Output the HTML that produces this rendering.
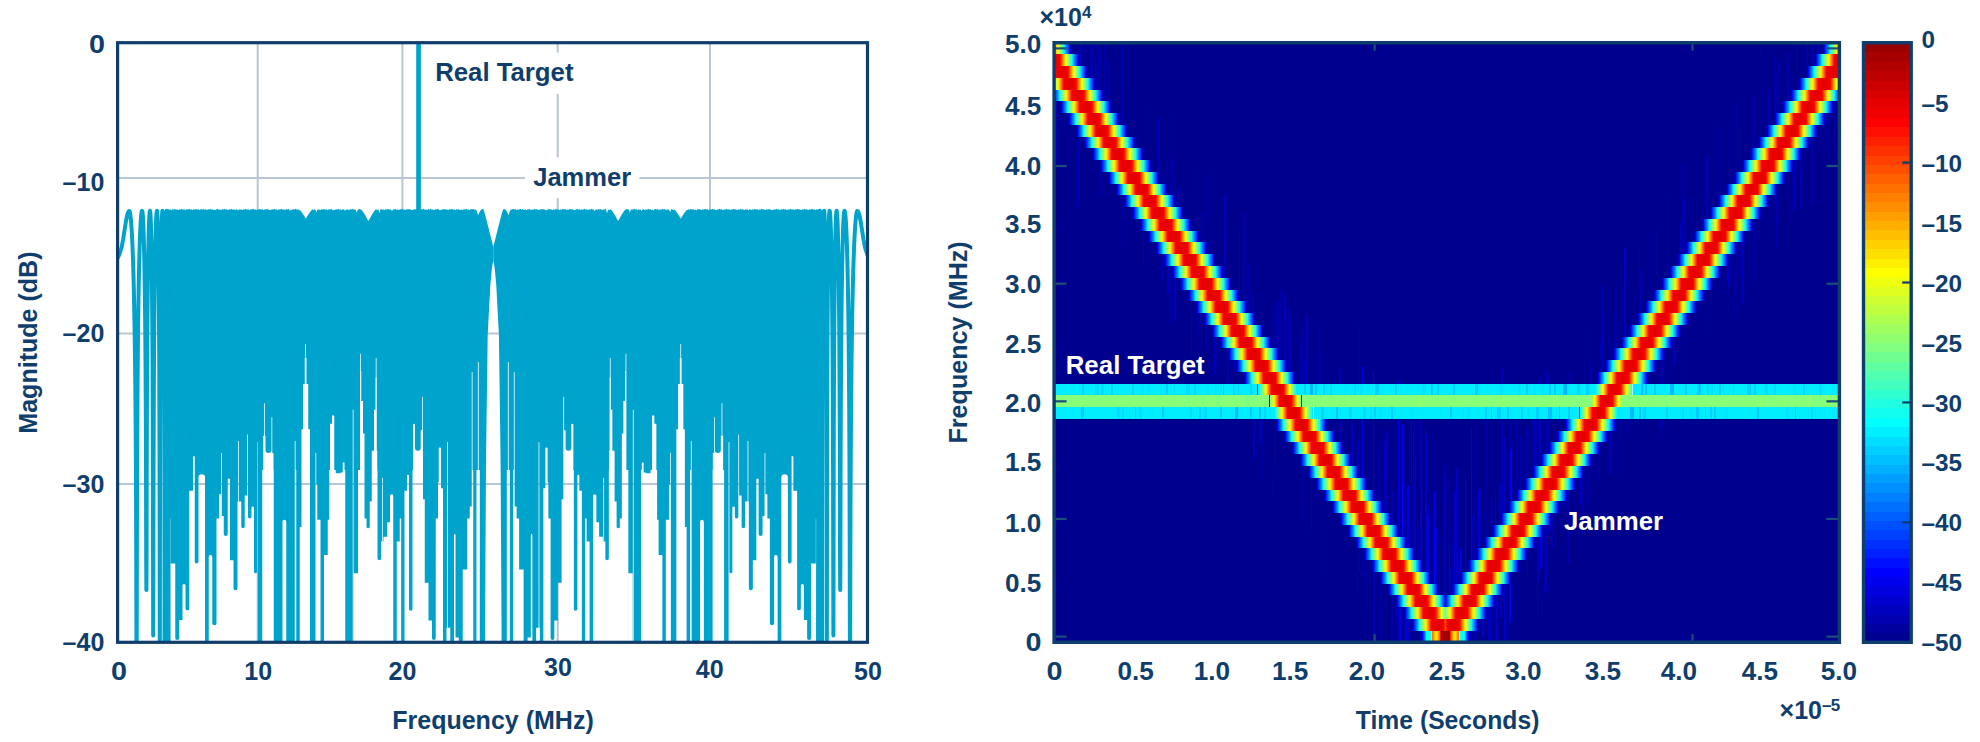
<!DOCTYPE html><html><head><meta charset="utf-8"><title>Jammer and Real Target</title>
<style>html,body{margin:0;padding:0;background:#fff}svg{display:block}text{font-family:"Liberation Sans",sans-serif;font-weight:bold;fill:#103e6c}</style></head><body>
<svg width="1980" height="742" viewBox="0 0 1980 742">
<rect width="1980" height="742" fill="#fff"/>
<g stroke="#b8c5d2" stroke-width="2" fill="none">
<line x1="257.7" y1="42.7" x2="257.7" y2="642.3"/>
<line x1="402.4" y1="42.7" x2="402.4" y2="642.3"/>
<line x1="557.7" y1="42.7" x2="557.7" y2="642.3"/>
<line x1="710" y1="42.7" x2="710" y2="642.3"/>
<line x1="117.6" y1="178" x2="867.5" y2="178"/>
<line x1="117.6" y1="333.5" x2="867.5" y2="333.5"/>
<line x1="117.6" y1="484" x2="867.5" y2="484"/>
</g>
<clipPath id="lc"><rect x="117.6" y="42.7" width="749.9" height="599.6"/></clipPath>
<g clip-path="url(#lc)">
<path d="M167.50 208.84L167.9 208.9L168.3 209.3L168.7 209.6L169.1 209.7L169.5 209.5L169.9 209.3L170.3 209.4L170.7 209.8L171.1 210.1L171.5 210.0L171.9 209.6L172.3 209.3L172.7 209.2L173.1 209.5L173.5 209.6L173.9 209.5L174.3 209.1L174.7 208.8L175.1 208.9L175.5 209.4L175.9 209.7L176.3 209.7L176.7 209.4L177.1 209.3L177.5 209.5L177.9 209.9L178.3 210.1L178.7 209.9L179.1 209.5L179.5 209.2L179.9 209.3L180.3 209.5L180.7 209.6L181.1 209.4L181.5 209.0L181.9 208.8L182.3 209.0L182.7 209.4L183.1 209.7L183.5 209.6L183.9 209.4L184.3 209.3L184.7 209.6L185.1 210.0L185.5 210.1L185.9 209.8L186.3 209.4L186.7 209.2L187.1 209.3L187.5 209.6L187.9 209.6L188.3 209.3L188.7 208.9L189.1 208.8L189.5 209.1L189.9 209.5L190.3 209.7L190.7 209.6L191.1 209.3L191.5 209.3L191.9 209.7L192.3 210.0L192.7 210.1L193.1 209.7L193.5 209.3L193.9 209.2L194.3 209.4L194.7 209.6L195.1 209.5L195.5 209.2L195.9 208.9L196.3 208.9L196.7 209.2L197.1 209.6L197.5 209.7L197.9 209.5L198.3 209.3L198.7 209.4L199.1 209.8L199.5 210.1L199.9 210.0L200.3 209.6L200.7 209.3L201.1 209.2L201.5 209.4L201.9 209.6L202.3 209.5L202.7 209.1L203.1 208.8L203.5 208.9L203.9 209.3L204.3 209.7L204.7 209.7L205.1 209.4L205.5 209.3L205.9 209.5L206.3 209.8L206.7 210.1L207.1 209.9L207.5 209.5L207.9 209.2L208.3 209.2L208.7 209.5L209.1 209.6L209.5 209.4L209.9 209.0L210.3 208.8L210.7 209.0L211.1 209.4L211.5 209.7L211.9 209.6L212.3 209.4L212.7 209.3L213.1 209.5L213.5 209.9L213.9 210.1L214.3 209.9L214.7 210.0L215.1 210.2L215.5 209.7L215.9 209.5L216.3 209.6L216.7 209.3L217.1 208.9L217.5 208.8L217.9 209.1L218.3 209.5L218.7 209.7L219.1 209.6L219.5 209.4L219.9 209.3L220.3 209.6L220.7 210.0L221.1 210.1L221.5 209.8L221.9 209.4L222.3 209.2L222.7 209.3L223.1 209.6L223.5 209.6L223.9 209.2L224.3 208.9L224.7 208.8L225.1 209.2L225.5 209.6L225.9 209.7L226.3 209.5L226.7 209.3L227.1 209.4L227.5 209.7L227.9 210.0L228.3 210.0L228.7 209.7L229.1 209.3L229.5 209.2L229.9 209.4L230.3 209.6L230.7 209.5L231.1 209.1L231.5 208.8L231.9 208.9L232.3 209.3L232.7 209.7L233.1 209.7L233.5 209.5L233.9 209.3L234.3 209.4L234.7 209.8L235.1 210.1L235.5 210.0L235.9 209.6L236.3 209.2L236.7 209.2L237.1 209.4L237.5 209.9L237.9 210.5L238.3 210.2L238.7 209.6L239.1 209.1L239.5 209.4L239.9 209.7L240.3 209.7L240.7 209.4L241.1 209.3L241.5 209.5L241.9 209.9L242.3 210.1L242.7 209.9L243.1 209.5L243.5 209.2L243.9 209.2L244.3 209.5L244.7 209.6L245.1 209.4L245.5 209.0L245.9 208.8L246.3 209.0L246.7 209.5L247.1 209.7L247.5 209.6L247.9 209.4L248.3 209.3L248.7 209.6L249.1 210.0L249.5 210.1L249.9 209.8L250.3 209.4L250.7 209.2L251.1 209.3L251.5 209.5L251.9 209.6L252.3 209.3L252.7 208.9L253.1 208.8L253.5 209.1L253.9 209.6L254.3 209.7L254.7 209.6L255.1 209.3L255.5 209.4L255.9 209.7L256.3 210.0L256.7 210.0L257.1 209.7L257.5 209.3L257.9 209.2L258.3 209.3L258.7 209.6L259.1 209.5L259.5 209.2L259.9 208.9L260.3 208.9L260.7 209.2L261.1 209.6L261.5 209.7L261.9 209.5L262.3 209.3L262.7 209.4L263.1 209.8L263.5 210.1L263.9 210.0L264.3 209.6L264.7 209.2L265.1 209.2L265.5 209.4L265.9 209.6L266.3 209.5L266.7 209.1L267.1 208.8L267.5 208.9L267.9 209.3L268.3 209.7L268.7 209.7L269.1 209.5L269.5 209.8L269.9 210.3L270.3 210.0L270.7 210.1L271.1 209.9L271.5 209.5L271.9 209.2L272.3 209.2L272.7 209.5L273.1 209.6L273.5 209.4L273.9 209.0L274.3 208.8L274.7 209.0L275.1 209.4L275.5 209.7L275.9 209.7L276.3 209.4L276.7 209.3L277.1 209.6L277.5 209.9L277.9 210.1L278.3 209.8L278.7 209.4L279.1 209.2L279.5 209.3L279.9 209.5L280.3 209.6L280.7 209.3L281.1 208.9L281.5 208.8L281.9 209.1L282.3 209.5L282.7 209.7L283.1 209.6L283.5 209.4L283.9 209.3L284.3 209.6L284.7 210.0L285.1 210.1L285.5 209.7L285.9 209.3L286.3 209.2L286.7 209.3L287.1 209.5L287.5 209.5L287.9 209.2L288.3 208.9L288.7 208.9L289.1 209.4L289.5 210.0L289.9 210.6L290.3 210.3L290.7 209.7L291.1 209.4L291.5 209.7L291.9 210.0L292.3 210.0L292.7 209.6L293.1 209.3L293.5 209.2L293.9 209.4L294.3 209.6L294.7 209.5L295.1 209.1L295.5 208.8L295.9 208.9L296.3 209.3L296.7 209.7L297.1 209.7L297.5 209.5L297.9 209.3L298.3 209.5L298.7 209.8L299.1 210.1L299.5 210.0L299.9 210.0L300.3 210.4L300.7 210.9L301.1 211.4L301.5 212.0L301.9 212.5L302.3 213.1L302.7 213.7L303.1 214.3L303.5 214.9L303.9 215.6L304.3 216.2L304.7 216.8L305.1 217.5L305.5 218.2L305.9 218.5L306.3 217.8L306.7 217.2L307.1 216.5L307.5 215.9L307.9 215.2L308.3 214.6L308.7 214.0L309.1 213.4L309.5 212.8L309.9 212.3L310.3 211.7L310.7 211.2L311.1 210.7L311.5 210.2L311.9 209.7L312.3 209.3L312.7 209.6L313.1 210.0L313.5 210.1L313.9 209.8L314.3 209.4L314.7 209.1L315.1 209.3L315.5 209.9L315.9 211.0L316.3 212.0L316.7 211.5L317.1 210.4L317.5 209.3L317.9 209.6L318.3 209.8L318.7 209.6L319.1 209.4L319.5 209.4L319.9 209.7L320.3 210.0L320.7 210.0L321.1 209.7L321.5 209.3L321.9 209.1L322.3 209.3L322.7 209.6L323.1 209.5L323.5 209.2L323.9 208.9L324.3 208.9L324.7 209.3L325.1 209.7L325.5 209.8L325.9 209.5L326.3 209.3L326.7 209.4L327.1 209.8L327.5 210.1L327.9 210.0L328.3 209.6L328.7 209.2L329.1 209.2L329.5 209.4L329.9 209.6L330.3 209.4L330.7 209.1L331.1 208.8L331.5 209.0L331.9 209.4L332.3 209.7L332.7 210.2L333.1 210.5L333.5 209.9L333.9 209.5L334.3 209.9L334.7 210.1L335.1 209.9L335.5 209.5L335.9 209.2L336.3 209.2L336.7 209.4L337.1 209.6L337.5 209.4L337.9 209.0L338.3 208.8L338.7 209.0L339.1 209.5L339.5 209.8L339.9 209.7L340.3 209.4L340.7 209.3L341.1 209.6L341.5 209.9L341.9 210.1L342.3 209.8L342.7 209.4L343.1 209.1L343.5 209.2L343.9 209.5L344.3 209.8L344.7 210.5L345.1 210.8L345.5 210.2L345.9 209.5L346.3 209.6L346.7 209.8L347.1 209.6L347.5 209.4L347.9 209.4L348.3 209.7L348.7 210.0L349.1 210.0L349.5 209.7L349.9 209.3L350.3 209.1L350.7 209.3L351.1 209.5L351.5 209.5L351.9 209.2L352.3 208.9L352.7 208.9L353.1 209.2L353.5 209.6L353.9 209.8L354.3 209.6L354.7 209.4L355.1 209.4L355.5 209.7L355.9 210.3L356.3 211.4L356.7 212.6L357.1 211.4L357.5 210.3L357.9 209.4L358.3 209.6L358.7 209.5L359.1 209.1L359.5 208.8L359.9 208.9L360.3 209.3L360.7 209.7L361.1 209.8L361.5 209.8L361.9 210.3L362.3 210.8L362.7 211.4L363.1 212.0L363.5 212.6L363.9 213.2L364.3 213.8L364.7 214.5L365.1 215.1L365.5 215.8L365.9 216.5L366.3 217.2L366.7 217.9L367.1 218.7L367.5 219.4L367.9 220.1L368.3 220.9L368.7 220.5L369.1 219.8L369.5 219.0L369.9 218.3L370.3 217.6L370.7 216.9L371.1 216.2L371.5 215.5L371.9 214.8L372.3 214.1L372.7 213.5L373.1 212.9L373.5 212.3L373.9 211.7L374.3 211.1L374.7 210.6L375.1 210.1L375.5 209.7L375.9 209.4L376.3 209.4L376.7 209.6L377.1 210.0L377.5 210.1L377.9 209.8L378.3 209.3L378.7 210.5L379.1 211.8L379.5 213.2L379.9 211.8L380.3 210.5L380.7 209.1L381.1 208.9L381.5 209.2L381.9 209.6L382.3 209.8L382.7 209.6L383.1 209.4L383.5 209.4L383.9 209.7L384.3 210.0L384.7 210.0L385.1 209.7L385.5 209.2L385.9 209.1L386.3 209.3L386.7 209.5L387.1 209.5L387.5 209.1L387.9 208.9L388.3 208.9L388.7 209.3L389.1 209.7L389.5 209.8L389.9 209.6L390.3 209.4L390.7 209.4L391.1 209.8L391.5 210.3L391.9 211.1L392.3 210.7L392.7 210.0L393.1 209.2L393.5 209.4L393.9 209.6L394.3 209.4L394.7 209.1L395.1 208.8L395.5 209.0L395.9 209.4L396.3 209.7L396.7 209.7L397.1 209.5L397.5 209.3L397.9 209.5L398.3 209.9L398.7 210.1L399.1 209.9L399.5 209.4L399.9 209.1L400.3 209.2L400.7 209.4L401.1 209.6L401.5 209.3L401.9 209.0L402.3 208.8L402.7 209.1L403.1 209.5L403.5 209.8L403.9 209.7L404.3 209.4L404.7 209.4L405.1 209.6L405.5 209.9L405.9 210.1L406.3 209.8L406.7 209.3L407.1 209.1L407.5 209.2L407.9 209.5L408.3 209.5L408.7 209.3L409.1 208.9L409.5 208.9L409.9 209.2L410.3 209.6L410.7 209.8L411.1 209.6L411.5 209.7L411.9 210.2L412.3 210.0L412.7 210.0L413.1 210.0L413.5 209.7L413.9 209.3L414.3 209.1L414.7 209.3L415.1 209.5L415.5 209.5L415.9 209.2L416.3 208.9L416.7 208.9L417.1 209.3L417.5 209.7L417.9 209.8L418.3 209.6L418.7 209.4L419.1 209.4L419.5 209.8L419.9 210.0L420.3 210.0L420.7 209.6L421.1 209.2L421.5 209.1L421.9 209.3L422.3 209.5L422.7 209.4L423.1 209.1L423.5 208.8L423.9 209.0L424.3 209.4L424.7 209.7L425.1 209.8L425.5 209.5L425.9 209.4L426.3 209.5L426.7 209.8L427.1 210.1L427.5 209.9L427.9 209.5L428.3 209.1L428.7 209.1L429.1 209.4L429.5 209.6L429.9 209.4L430.3 209.0L430.7 208.8L431.1 209.0L431.5 209.5L431.9 209.8L432.3 209.7L432.7 209.5L433.1 209.4L433.5 209.6L433.9 209.9L434.3 210.1L434.7 209.8L435.1 209.4L435.5 209.1L435.9 209.2L436.3 209.5L436.7 209.5L437.1 209.3L437.5 209.0L437.9 208.8L438.3 209.1L438.7 209.6L439.1 209.8L439.5 210.0L439.9 210.6L440.3 210.3L440.7 209.7L441.1 210.0L441.5 210.0L441.9 209.7L442.3 209.3L442.7 209.1L443.1 209.2L443.5 209.5L443.9 209.5L444.3 209.2L444.7 208.9L445.1 208.9L445.5 209.2L445.9 209.7L446.3 209.8L446.7 209.6L447.1 209.4L447.5 209.4L447.9 209.7L448.3 210.0L448.7 210.0L449.1 209.6L449.5 209.2L449.9 209.1L450.3 209.3L450.7 209.5L451.1 209.5L451.5 209.1L451.9 208.9L452.3 208.9L452.7 209.3L453.1 209.7L453.5 209.8L453.9 209.6L454.3 209.4L454.7 209.5L455.1 209.8L455.5 210.1L455.9 209.9L456.3 209.5L456.7 209.1L457.1 209.1L457.5 209.4L457.9 209.5L458.3 209.4L458.7 209.1L459.1 209.3L459.5 209.8L459.9 210.3L460.3 210.0L460.7 209.8L461.1 209.5L461.5 209.4L461.9 209.5L462.3 209.9L462.7 210.1L463.1 209.9L463.5 209.4L463.9 209.1L464.3 209.2L464.7 209.4L465.1 209.5L465.5 209.3L465.9 209.0L466.3 208.8L466.7 209.1L467.1 209.5L467.5 209.8L467.9 209.7L468.3 209.5L468.7 209.4L469.1 209.6L469.5 210.0L469.9 210.0L470.3 209.8L470.7 209.3L471.1 209.1L471.5 209.2L471.9 209.5L472.3 209.5L472.7 209.3L473.1 208.9L473.5 208.9L473.9 209.2L474.3 209.6L474.7 209.8L475.1 209.7L475.5 209.4L475.9 209.4L476.3 210.3L476.7 211.3L477.1 212.3L477.5 213.5L477.9 214.7L478.25 214.83L478.25 361.25L477.75 361.25L477.75 470.00L476.50 470.00L476.50 646.00L473.25 646.00L473.25 470.00L472.50 470.00L472.50 372.03L471.75 372.03L471.75 506.41L469.75 506.41L469.75 518.54L467.25 518.54L467.25 569.51L462.75 569.51L462.75 646.00L458.75 646.00L458.75 637.48L455.50 637.48L455.50 534.32L454.00 534.32L454.00 646.00L450.25 646.00L450.25 627.77L447.75 627.77L447.75 442.07L447.00 442.07L447.00 627.77L446.50 627.77L446.50 646.00L443.00 646.00L443.00 488.20L441.00 488.20L441.00 448.58Q441.00 447.46 439.88 447.46Q438.75 447.46 438.75 448.58L438.75 482.14L438.00 482.14L438.00 518.54L435.75 518.54L435.75 638.03Q435.75 639.90 433.88 639.90Q432.00 639.90 432.00 638.03L432.00 620.49L428.50 620.49L428.50 582.86L424.75 582.86L424.75 499.13L423.00 499.13L423.00 396.81L422.25 396.81L422.25 430.22L420.75 430.22L420.75 447.81Q420.75 450.69 417.88 450.69Q415.00 450.69 415.00 447.81L415.00 424.75Q415.00 423.75 414.00 423.75Q413.00 423.75 413.00 424.75L413.00 470.00L412.50 470.00L412.50 609.03Q412.50 610.78 410.75 610.78Q409.00 610.78 409.00 609.03L409.00 475.85Q409.00 474.85 408.00 474.85Q407.00 474.85 407.00 475.85L407.00 490.63L404.50 490.63L404.50 646.00L401.25 646.00L401.25 518.54L399.75 518.54L399.75 541.60L396.75 541.60L396.75 646.00L393.25 646.00L393.25 495.90Q393.25 494.27 391.62 494.27Q390.00 494.27 390.00 495.90L390.00 522.18L387.25 522.18L387.25 536.75L383.50 536.75L383.50 541.60L383.00 541.60L383.00 477.63L382.25 477.63L382.25 541.60L381.00 541.60L381.00 558.54Q381.00 560.29 379.25 560.29Q377.50 560.29 377.50 558.54L377.50 470.00L377.25 470.00L377.25 450.69L376.75 450.69L376.75 377.41L376.50 377.41L376.50 358.02L375.75 358.02L375.75 377.41L375.50 377.41L375.50 409.74L374.00 409.74L374.00 450.69L371.75 450.69L371.75 501.55L369.75 501.55L369.75 526.63Q369.75 528.25 368.12 528.25Q366.50 528.25 366.50 526.63L366.50 518.54L364.50 518.54L364.50 433.45L363.00 433.45L363.00 401.12L361.25 401.12L361.25 370.95L360.75 370.95L360.75 353.71L360.00 353.71L360.00 470.00L358.00 470.00L358.00 573.16L353.75 573.16L353.75 646.00L353.50 646.00L353.50 409.74L352.75 409.74L352.75 646.00L345.25 646.00L345.25 470.00L344.50 470.00L344.50 462.54L342.75 462.54L342.75 472.43L340.50 472.43L340.50 473.32L335.75 473.32L335.75 470.00L334.25 470.00L334.25 416.25Q334.25 415.13 333.12 415.13Q332.00 415.13 332.00 416.25L332.00 423.75L330.00 423.75L330.00 470.00L329.25 470.00L329.25 519.76L327.75 519.76L327.75 554.95L324.00 554.95L324.00 646.00L320.50 646.00L320.50 519.76L317.25 519.76L317.25 484.56L316.25 484.56L316.25 452.84L315.50 452.84L315.50 646.00L310.00 646.00L310.00 429.14L308.25 429.14L308.25 383.88L306.50 383.88L306.50 358.02L306.00 358.02L306.00 344.01L305.25 344.01L305.25 358.02L304.75 358.02L304.75 383.88L303.00 383.88L303.00 429.14L301.50 429.14L301.50 527.04L299.75 527.04L299.75 646.00L296.25 646.00L296.25 470.00L295.50 470.00L295.50 441.04L294.75 441.04L294.75 646.00L286.25 646.00L286.25 521.63Q286.25 519.76 284.38 519.76Q282.50 519.76 282.50 521.63L282.50 646.00L273.75 646.00L273.75 470.00L273.50 470.00L273.50 452.90L272.25 452.90L272.25 417.32L271.50 417.32L271.50 449.90Q271.50 452.90 268.50 452.90Q265.50 452.90 265.50 449.90L265.50 435.65L264.75 435.65L264.75 403.31L264.00 403.31L264.00 435.65L263.25 435.65L263.25 470.00L262.25 470.00L262.25 646.00L257.75 646.00L257.75 442.12L257.00 442.12L257.00 571.66Q257.00 573.16 255.50 573.16Q254.00 573.16 254.00 571.66L254.00 507.66Q254.00 506.41 252.75 506.41Q251.50 506.41 251.50 507.66L251.50 516.79Q251.50 518.54 249.75 518.54Q248.00 518.54 248.00 516.79L248.00 434.57L247.25 434.57L247.25 495.49L244.75 495.49L244.75 526.50Q244.75 528.25 243.00 528.25Q241.25 528.25 241.25 526.50L241.25 501.55L238.75 501.55L238.75 441.04L238.00 441.04L238.00 501.55L237.50 501.55L237.50 588.15Q237.50 590.15 235.50 590.15Q233.50 590.15 233.50 588.15L233.50 560.29L230.00 560.29L230.00 479.62Q230.00 478.50 228.88 478.50Q227.75 478.50 227.75 479.62L227.75 534.02Q227.75 536.02 225.75 536.02Q223.75 536.02 223.75 534.02L223.75 516.12L221.75 516.12L221.75 452.90L221.00 452.90L221.00 494.27L219.00 494.27L219.00 518.54L216.50 518.54L216.50 623.21Q216.50 625.34 214.38 625.34Q212.25 625.34 212.25 623.21L212.25 556.70Q212.25 554.95 210.50 554.95Q208.75 554.95 208.75 556.70L208.75 646.00L205.00 646.00L205.00 477.62Q205.00 474.37 201.75 474.37Q198.50 474.37 198.50 477.62L198.50 561.57Q198.50 563.45 196.62 563.45Q194.75 563.45 194.75 561.57L194.75 456.13L193.00 456.13L193.00 490.63L189.25 490.63L189.25 608.42Q189.25 610.29 187.38 610.29Q185.50 610.29 185.50 608.42L185.50 585.58Q185.50 584.08 184.00 584.08Q182.50 584.08 182.50 585.58L182.50 620.00L179.25 620.00L179.25 637.90Q179.25 639.90 177.25 639.90Q175.25 639.90 175.25 637.90L175.25 563.45L170.50 563.45L170.50 518.54L167.50 518.54Z" fill="#00a3cc"/>
<path d="M508.35 214.83L508.8 214.5L509.1 213.3L509.5 212.2L509.9 211.1L510.3 210.2L510.7 209.4L511.1 209.4L511.5 209.7L511.9 209.8L512.3 209.6L512.7 209.1L513.1 208.9L513.5 209.0L513.9 209.3L514.3 209.5L514.7 209.4L515.1 209.2L515.5 209.1L515.9 209.4L516.3 209.8L516.7 210.1L517.1 209.9L517.5 209.6L517.9 209.4L518.3 209.5L518.7 209.7L519.1 209.8L519.5 209.5L519.9 209.0L520.3 208.8L520.7 209.0L521.1 209.4L521.5 209.5L521.9 209.4L522.3 209.1L522.7 209.1L523.1 209.5L523.5 209.9L523.9 210.1L524.3 209.8L524.7 209.5L525.1 209.4L525.5 209.5L525.9 209.8L526.3 210.1L526.7 210.2L527.1 209.7L527.5 209.2L527.9 209.1L528.3 209.4L528.7 209.5L529.1 209.3L529.5 209.1L529.9 209.2L530.3 209.6L530.7 210.0L531.1 210.0L531.5 209.8L531.9 209.4L532.3 209.4L532.7 209.6L533.1 209.8L533.5 209.7L533.9 209.3L534.3 208.9L534.7 208.9L535.1 209.2L535.5 209.5L535.9 209.5L536.3 209.3L536.7 209.1L537.1 209.2L537.5 209.7L537.9 210.0L538.3 210.0L538.7 209.7L539.1 209.4L539.5 209.4L539.9 209.7L540.3 209.8L540.7 209.6L541.1 209.2L541.5 208.9L541.9 208.9L542.3 209.3L542.7 209.5L543.1 209.5L543.5 209.2L543.9 209.1L544.3 209.3L544.7 209.8L545.1 210.1L545.5 209.9L545.9 209.8L546.3 210.4L546.7 210.6L547.1 210.0L547.5 209.8L547.9 209.5L548.3 209.1L548.7 208.8L549.1 209.0L549.5 209.3L549.9 209.5L550.3 209.4L550.7 209.2L551.1 209.1L551.5 209.4L551.9 209.9L552.3 210.1L552.7 209.9L553.1 209.5L553.5 209.4L553.9 209.5L554.3 209.8L554.7 209.8L555.1 209.4L555.5 209.0L555.9 208.8L556.3 209.1L556.7 209.4L557.1 209.5L557.5 209.4L557.9 209.1L558.3 209.2L558.7 209.5L559.1 209.9L559.5 210.1L559.9 209.8L560.3 209.5L560.7 209.4L561.1 209.6L561.5 209.8L561.9 209.7L562.3 209.3L562.7 208.9L563.1 208.9L563.5 209.1L563.9 209.5L564.3 209.5L564.7 209.3L565.1 209.1L565.5 209.2L565.9 209.6L566.3 210.0L566.7 210.0L567.1 209.7L567.5 209.4L567.9 209.4L568.3 209.6L568.7 209.8L569.1 209.6L569.5 209.2L569.9 208.9L570.3 208.9L570.7 209.2L571.1 209.5L571.5 209.5L571.9 209.2L572.3 209.1L572.7 209.3L573.1 209.7L573.5 210.1L573.9 210.0L574.3 210.0L574.7 210.1L575.1 209.7L575.5 209.7L575.9 209.8L576.3 209.5L576.7 209.1L577.1 208.8L577.5 209.0L577.9 209.3L578.3 209.5L578.7 209.5L579.1 209.2L579.5 209.1L579.9 209.4L580.3 209.8L580.7 210.1L581.1 209.9L581.5 209.5L581.9 209.3L582.3 209.5L582.7 209.7L583.1 209.8L583.5 209.5L583.9 209.0L584.3 208.8L584.7 209.0L585.1 209.4L585.5 209.6L585.9 209.4L586.3 209.2L586.7 209.2L587.1 209.5L587.5 209.9L587.9 210.1L588.3 209.8L588.7 209.5L589.1 209.3L589.5 209.5L589.9 209.8L590.3 209.7L590.7 209.3L591.1 208.9L591.5 208.8L591.9 209.1L592.3 209.5L592.7 209.5L593.1 209.3L593.5 209.3L593.9 210.0L594.3 210.8L594.7 211.0L595.1 210.2L595.5 209.7L595.9 209.4L596.3 209.4L596.7 209.6L597.1 209.8L597.5 209.7L597.9 209.2L598.3 208.9L598.7 208.9L599.1 209.2L599.5 209.5L599.9 209.5L600.3 209.3L600.7 209.1L601.1 209.3L601.5 209.7L601.9 210.0L602.3 210.0L602.7 209.7L603.1 209.4L603.5 209.4L603.9 209.6L604.3 209.8L604.7 209.6L605.1 209.1L605.5 208.8L605.9 209.3L606.3 210.7L606.7 212.0L607.1 213.0L607.5 211.7L607.9 210.3L608.3 209.4L608.7 209.8L609.1 210.1L609.5 209.9L609.9 209.6L610.3 209.3L610.7 209.4L611.1 209.7L611.5 210.1L611.9 210.6L612.3 211.2L612.7 211.7L613.1 212.3L613.5 212.9L613.9 213.6L614.3 214.2L614.7 214.9L615.1 215.5L615.5 216.2L615.9 216.9L616.3 217.7L616.7 218.4L617.1 219.1L617.5 219.9L617.9 220.6L618.3 220.8L618.7 220.1L619.1 219.3L619.5 218.6L619.9 217.8L620.3 217.1L620.7 216.4L621.1 215.7L621.5 215.0L621.9 214.4L622.3 213.7L622.7 213.1L623.1 212.5L623.5 211.9L623.9 211.3L624.3 210.8L624.7 210.3L625.1 209.8L625.5 209.8L625.9 209.7L626.3 209.3L626.7 208.9L627.1 208.9L627.5 209.2L627.9 209.5L628.3 209.5L628.7 209.3L629.1 210.4L629.5 211.6L629.9 212.5L630.3 211.3L630.7 210.1L631.1 209.7L631.5 209.4L631.9 209.4L632.3 209.6L632.7 209.8L633.1 209.6L633.5 209.2L633.9 208.9L634.3 208.9L634.7 209.2L635.1 209.5L635.5 209.5L635.9 209.3L636.3 209.1L636.7 209.3L637.1 209.8L637.5 210.1L637.9 210.0L638.3 209.6L638.7 209.3L639.1 209.4L639.5 209.7L639.9 209.8L640.3 209.5L640.7 209.6L641.1 210.2L641.5 210.9L641.9 210.4L642.3 209.7L642.7 209.5L643.1 209.2L643.5 209.1L643.9 209.4L644.3 209.9L644.7 210.1L645.1 209.9L645.5 209.5L645.9 209.3L646.3 209.5L646.7 209.7L647.1 209.7L647.5 209.4L647.9 209.0L648.3 208.8L648.7 209.0L649.1 209.4L649.5 209.6L649.9 209.4L650.3 209.2L650.7 209.2L651.1 209.5L651.5 209.9L651.9 210.1L652.3 209.8L652.7 209.5L653.1 210.0L653.5 210.5L653.9 210.1L654.3 209.7L654.7 209.3L655.1 208.9L655.5 208.8L655.9 209.1L656.3 209.5L656.7 209.6L657.1 209.4L657.5 209.1L657.9 209.2L658.3 209.6L658.7 210.0L659.1 210.0L659.5 209.7L659.9 209.4L660.3 209.3L660.7 209.6L661.1 209.8L661.5 209.6L661.9 209.2L662.3 208.9L662.7 208.9L663.1 209.2L663.5 209.5L663.9 209.5L664.3 209.3L664.7 209.1L665.1 209.3L665.5 209.7L665.9 210.1L666.3 210.0L666.7 209.6L667.1 209.4L667.5 209.4L667.9 209.6L668.3 209.8L668.7 209.5L669.1 209.5L669.5 210.5L669.9 211.6L670.3 211.9L670.7 210.8L671.1 209.7L671.5 209.2L671.9 209.1L672.3 209.4L672.7 209.8L673.1 210.1L673.5 209.9L673.9 209.6L674.3 209.4L674.7 209.8L675.1 210.3L675.5 210.7L675.9 211.2L676.3 211.8L676.7 212.3L677.1 212.9L677.5 213.5L677.9 214.1L678.3 214.7L678.7 215.3L679.1 216.0L679.5 216.6L679.9 217.3L680.3 217.9L680.7 218.6L681.1 218.1L681.5 217.4L681.9 216.8L682.3 216.1L682.7 215.5L683.1 214.8L683.5 214.2L683.9 213.6L684.3 213.0L684.7 212.5L685.1 211.9L685.5 211.4L685.9 210.9L686.3 210.4L686.7 209.9L687.1 210.0L687.5 210.1L687.9 209.8L688.3 209.4L688.7 209.3L689.1 209.5L689.5 209.7L689.9 209.6L690.3 209.3L690.7 208.9L691.1 208.9L691.5 209.2L691.9 209.5L692.3 209.6L692.7 209.3L693.1 209.2L693.5 209.3L693.9 209.7L694.3 210.0L694.7 210.0L695.1 209.7L695.5 209.4L695.9 209.8L696.3 210.4L696.7 210.6L697.1 210.0L697.5 209.3L697.9 208.8L698.3 208.9L698.7 209.3L699.1 209.6L699.5 209.5L699.9 209.3L700.3 209.2L700.7 209.4L701.1 209.8L701.5 210.1L701.9 210.0L702.3 209.6L702.7 209.3L703.1 209.4L703.5 209.6L703.9 209.7L704.3 209.5L704.7 209.1L705.1 208.8L705.5 209.0L705.9 209.3L706.3 209.6L706.7 209.5L707.1 209.2L707.5 209.2L707.9 209.5L708.3 209.9L708.7 210.1L709.1 209.9L709.5 209.5L709.9 209.3L710.3 209.4L710.7 209.7L711.1 209.7L711.5 209.4L711.9 209.0L712.3 208.8L712.7 209.0L713.1 209.4L713.5 209.6L713.9 209.4L714.3 209.2L714.7 209.2L715.1 209.6L715.5 210.0L715.9 210.1L716.3 210.1L716.7 210.2L717.1 209.7L717.5 209.5L717.9 209.7L718.3 209.7L718.7 209.3L719.1 208.9L719.5 208.8L719.9 209.1L720.3 209.5L720.7 209.6L721.1 209.4L721.5 209.2L721.9 209.3L722.3 209.7L722.7 210.0L723.1 210.0L723.5 209.7L723.9 209.4L724.3 209.3L724.7 209.6L725.1 209.7L725.5 209.6L725.9 209.2L726.3 208.8L726.7 208.9L727.1 209.2L727.5 209.5L727.9 209.6L728.3 209.3L728.7 209.2L729.1 209.3L729.5 209.8L729.9 210.1L730.3 210.0L730.7 209.6L731.1 209.3L731.5 209.4L731.9 209.6L732.3 209.7L732.7 209.5L733.1 209.1L733.5 208.8L733.9 208.9L734.3 209.3L734.7 209.6L735.1 209.5L735.5 209.3L735.9 209.2L736.3 209.4L736.7 209.9L737.1 210.1L737.5 209.9L737.9 209.5L738.3 209.3L738.7 209.4L739.1 209.7L739.5 209.7L739.9 209.4L740.3 209.0L740.7 208.8L741.1 209.0L741.5 209.4L741.9 209.6L742.3 209.5L742.7 209.2L743.1 209.2L743.5 209.5L743.9 209.9L744.3 210.1L744.7 209.8L745.1 209.5L745.5 209.3L745.9 209.5L746.3 209.7L746.7 209.7L747.1 209.3L747.5 209.1L747.9 209.7L748.3 210.3L748.7 210.4L749.1 209.8L749.5 209.4L749.9 209.2L750.3 209.3L750.7 209.6L751.1 210.0L751.5 210.1L751.9 209.8L752.3 209.4L752.7 209.3L753.1 209.5L753.5 209.7L753.9 209.6L754.3 209.2L754.7 208.9L755.1 208.9L755.5 209.2L755.9 209.5L756.3 209.6L756.7 209.4L757.1 209.2L757.5 209.3L757.9 209.7L758.3 210.1L758.7 210.0L759.1 209.7L759.5 209.3L759.9 209.3L760.3 209.6L760.7 209.7L761.1 209.5L761.5 209.1L761.9 208.8L762.3 208.9L762.7 209.3L763.1 209.6L763.5 209.5L763.9 209.3L764.3 209.2L764.7 209.4L765.1 209.8L765.5 210.1L765.9 210.0L766.3 209.6L766.7 209.3L767.1 209.4L767.5 209.6L767.9 209.7L768.3 209.5L768.7 209.0L769.1 208.8L769.5 209.0L769.9 209.4L770.3 209.6L770.7 209.5L771.1 209.8L771.5 210.2L771.9 209.9L772.3 209.9L772.7 210.1L773.1 209.9L773.5 209.5L773.9 209.3L774.3 209.4L774.7 209.7L775.1 209.7L775.5 209.4L775.9 208.9L776.3 208.8L776.7 209.1L777.1 209.4L777.5 209.6L777.9 209.4L778.3 209.2L778.7 209.2L779.1 209.6L779.5 210.0L779.9 210.1L780.3 209.8L780.7 209.4L781.1 209.3L781.5 209.5L781.9 209.7L782.3 209.6L782.7 209.3L783.1 208.9L783.5 208.8L783.9 209.1L784.3 209.5L784.7 209.6L785.1 209.4L785.5 209.2L785.9 209.3L786.3 209.7L786.7 210.0L787.1 210.0L787.5 209.7L787.9 209.4L788.3 209.3L788.7 209.5L789.1 209.7L789.5 209.6L789.9 209.2L790.3 208.8L790.7 208.9L791.1 209.2L791.5 209.6L791.9 209.6L792.3 209.3L792.7 209.2L793.1 209.4L793.5 209.8L793.9 210.1L794.3 210.0L794.7 209.6L795.1 209.3L795.5 209.3L795.9 209.6L796.3 209.7L796.7 209.5L797.1 209.1L797.5 208.8L797.9 208.9L798.3 209.3L798.7 209.6L799.1 209.5L799.5 209.3L799.9 209.2L800.3 209.5L800.7 209.9L801.1 210.1L801.5 209.9L801.9 209.5L802.3 209.3L802.7 209.4L803.1 209.6L803.5 209.7L803.9 209.4L804.3 209.0L804.7 208.8L805.1 209.0L805.5 209.4L805.9 209.6L806.3 209.5L806.7 209.2L807.1 209.2L807.5 209.6L807.9 210.0L808.3 210.1L808.7 209.8L809.1 209.4L809.5 209.3L809.9 209.4L810.3 209.7L810.7 209.6L811.1 209.3L811.5 208.9L811.9 208.8L812.3 209.1L812.7 209.5L813.1 209.6L813.5 209.4L813.9 209.2L814.3 209.3L814.7 209.7L815.1 210.0L815.5 210.1L815.9 209.7L816.3 209.4L816.7 209.3L817.1 209.5L817.5 209.7L817.9 209.6L818.3 209.2L818.7 208.9L819.10 208.84L819.10 518.54L815.85 518.54L815.85 563.45L811.10 563.45L811.10 637.90Q811.10 639.90 809.10 639.90Q807.10 639.90 807.10 637.90L807.10 620.00L803.85 620.00L803.85 585.58Q803.85 584.08 802.35 584.08Q800.85 584.08 800.85 585.58L800.85 608.42Q800.85 610.29 798.98 610.29Q797.10 610.29 797.10 608.42L797.10 490.63L793.35 490.63L793.35 456.13L791.60 456.13L791.60 561.57Q791.60 563.45 789.73 563.45Q787.85 563.45 787.85 561.57L787.85 477.62Q787.85 474.37 784.60 474.37Q781.35 474.37 781.35 477.62L781.35 646.00L777.60 646.00L777.60 556.70Q777.60 554.95 775.85 554.95Q774.10 554.95 774.10 556.70L774.10 623.21Q774.10 625.34 771.98 625.34Q769.85 625.34 769.85 623.21L769.85 518.54L767.35 518.54L767.35 494.27L765.35 494.27L765.35 452.90L764.60 452.90L764.60 516.12L762.60 516.12L762.60 534.02Q762.60 536.02 760.60 536.02Q758.60 536.02 758.60 534.02L758.60 479.62Q758.60 478.50 757.48 478.50Q756.35 478.50 756.35 479.62L756.35 560.29L752.85 560.29L752.85 588.15Q752.85 590.15 750.85 590.15Q748.85 590.15 748.85 588.15L748.85 501.55L748.35 501.55L748.35 441.04L747.60 441.04L747.60 501.55L745.10 501.55L745.10 526.50Q745.10 528.25 743.35 528.25Q741.60 528.25 741.60 526.50L741.60 495.49L739.10 495.49L739.10 434.57L738.35 434.57L738.35 516.79Q738.35 518.54 736.60 518.54Q734.85 518.54 734.85 516.79L734.85 507.66Q734.85 506.41 733.60 506.41Q732.35 506.41 732.35 507.66L732.35 571.66Q732.35 573.16 730.85 573.16Q729.35 573.16 729.35 571.66L729.35 442.12L728.60 442.12L728.60 646.00L724.10 646.00L724.10 470.00L723.10 470.00L723.10 435.65L722.35 435.65L722.35 403.31L721.60 403.31L721.60 435.65L720.85 435.65L720.85 449.90Q720.85 452.90 717.85 452.90Q714.85 452.90 714.85 449.90L714.85 417.32L714.10 417.32L714.10 452.90L712.85 452.90L712.85 470.00L712.60 470.00L712.60 646.00L703.85 646.00L703.85 521.63Q703.85 519.76 701.98 519.76Q700.10 519.76 700.10 521.63L700.10 646.00L691.60 646.00L691.60 441.04L690.85 441.04L690.85 470.00L690.10 470.00L690.10 646.00L686.60 646.00L686.60 527.04L684.85 527.04L684.85 429.14L683.35 429.14L683.35 383.88L681.60 383.88L681.60 358.02L681.10 358.02L681.10 344.01L680.35 344.01L680.35 358.02L679.85 358.02L679.85 383.88L678.10 383.88L678.10 429.14L676.35 429.14L676.35 646.00L670.85 646.00L670.85 452.84L670.10 452.84L670.10 484.56L669.10 484.56L669.10 519.76L665.85 519.76L665.85 646.00L662.35 646.00L662.35 554.95L658.60 554.95L658.60 519.76L657.10 519.76L657.10 470.00L656.35 470.00L656.35 423.75L654.35 423.75L654.35 416.25Q654.35 415.13 653.23 415.13Q652.10 415.13 652.10 416.25L652.10 470.00L650.60 470.00L650.60 473.32L645.85 473.32L645.85 472.43L643.60 472.43L643.60 462.54L641.85 462.54L641.85 470.00L641.10 470.00L641.10 646.00L633.60 646.00L633.60 409.74L632.85 409.74L632.85 646.00L632.60 646.00L632.60 573.16L628.35 573.16L628.35 470.00L626.35 470.00L626.35 353.71L625.60 353.71L625.60 370.95L625.10 370.95L625.10 401.12L623.35 401.12L623.35 433.45L621.85 433.45L621.85 518.54L619.85 518.54L619.85 526.63Q619.85 528.25 618.23 528.25Q616.60 528.25 616.60 526.63L616.60 501.55L614.60 501.55L614.60 450.69L612.35 450.69L612.35 409.74L610.85 409.74L610.85 377.41L610.60 377.41L610.60 358.02L609.85 358.02L609.85 377.41L609.60 377.41L609.60 450.69L609.10 450.69L609.10 470.00L608.85 470.00L608.85 558.54Q608.85 560.29 607.10 560.29Q605.35 560.29 605.35 558.54L605.35 541.60L604.10 541.60L604.10 477.63L603.35 477.63L603.35 541.60L602.85 541.60L602.85 536.75L599.10 536.75L599.10 522.18L596.35 522.18L596.35 495.90Q596.35 494.27 594.73 494.27Q593.10 494.27 593.10 495.90L593.10 646.00L589.60 646.00L589.60 541.60L586.60 541.60L586.60 518.54L585.10 518.54L585.10 646.00L581.85 646.00L581.85 490.63L579.35 490.63L579.35 475.85Q579.35 474.85 578.35 474.85Q577.35 474.85 577.35 475.85L577.35 609.03Q577.35 610.78 575.60 610.78Q573.85 610.78 573.85 609.03L573.85 470.00L573.35 470.00L573.35 424.75Q573.35 423.75 572.35 423.75Q571.35 423.75 571.35 424.75L571.35 447.81Q571.35 450.69 568.48 450.69Q565.60 450.69 565.60 447.81L565.60 430.22L564.10 430.22L564.10 396.81L563.35 396.81L563.35 499.13L561.60 499.13L561.60 582.86L557.85 582.86L557.85 620.49L554.35 620.49L554.35 638.03Q554.35 639.90 552.48 639.90Q550.60 639.90 550.60 638.03L550.60 518.54L548.35 518.54L548.35 482.14L547.60 482.14L547.60 448.58Q547.60 447.46 546.48 447.46Q545.35 447.46 545.35 448.58L545.35 488.20L543.35 488.20L543.35 646.00L539.85 646.00L539.85 627.77L539.35 627.77L539.35 442.07L538.60 442.07L538.60 627.77L536.10 627.77L536.10 646.00L532.35 646.00L532.35 534.32L530.85 534.32L530.85 637.48L527.60 637.48L527.60 646.00L523.60 646.00L523.60 569.51L519.10 569.51L519.10 518.54L516.60 518.54L516.60 506.41L514.60 506.41L514.60 372.03L513.85 372.03L513.85 470.00L513.10 470.00L513.10 646.00L509.85 646.00L509.85 470.00L508.60 470.00L508.60 361.25L508.35 361.25Z" fill="#00a3cc"/>
<path d="M117.30 258.50L118.50 256.50L120.00 252.50L121.60 247.50L123.00 240.00L124.60 230.00L126.00 221.00L127.30 214.60L128.30 211.90L129.20 211.00L129.49 211.06L129.79 211.84L130.08 213.15L130.38 214.99L130.67 217.39L130.97 220.36L131.26 223.93L131.55 228.13L131.85 233.00L132.14 238.60L132.44 244.99L132.73 252.25L133.02 260.48L133.32 269.80L133.61 280.39L133.91 292.46L134.20 306.32L134.50 322.37L134.79 341.23L135.08 363.82L135.38 391.70L135.67 427.69L135.97 477.97L136.26 560.79L136.56 700.00L136.63 700.00L136.85 560.79L137.07 477.97L137.29 427.69L137.51 391.70L137.73 363.82L137.95 341.23L138.16 322.37L138.38 306.32L138.60 292.46L138.82 280.39L139.04 269.80L139.26 260.48L139.48 252.25L139.69 244.99L139.91 238.60L140.13 233.00L140.35 228.13L140.57 223.93L140.79 220.36L141.01 217.39L141.23 214.99L141.44 213.15L141.66 211.84L141.88 211.06L142.10 210.80L142.27 211.06L142.44 211.84L142.61 213.15L142.78 214.99L142.95 217.39L143.13 220.36L143.30 223.93L143.47 228.13L143.64 233.00L143.81 238.60L143.98 244.99L144.15 252.25L144.32 260.48L144.49 269.80L144.66 280.39L144.84 292.46L145.01 306.32L145.18 322.37L145.35 341.23L145.52 363.82L145.69 391.70L145.86 427.69L146.03 477.97L146.20 560.79L146.37 590.00L146.42 590.00L146.56 560.79L146.71 477.97L146.85 427.69L146.99 391.70L147.14 363.82L147.28 341.23L147.42 322.37L147.57 306.32L147.71 292.46L147.85 280.39L148.00 269.80L148.14 260.48L148.28 252.25L148.43 244.99L148.57 238.60L148.71 233.00L148.85 228.13L149.00 223.93L149.14 220.36L149.28 217.39L149.43 214.99L149.57 213.15L149.71 211.84L149.86 211.06L150.00 210.80L150.13 211.06L150.25 211.84L150.38 213.15L150.51 214.99L150.64 217.39L150.76 220.36L150.89 223.93L151.02 228.13L151.15 233.00L151.27 238.60L151.40 244.99L151.53 252.25L151.65 260.48L151.78 269.80L151.91 280.39L152.04 292.46L152.16 306.32L152.29 322.37L152.42 341.23L152.54 363.82L152.67 391.70L152.80 427.69L152.93 477.97L153.05 560.79L153.18 635.50L153.22 635.50L153.37 560.79L153.52 477.97L153.68 427.69L153.83 391.70L153.98 363.82L154.13 341.23L154.28 322.37L154.43 306.32L154.58 292.46L154.73 280.39L154.88 269.80L155.04 260.48L155.19 252.25L155.34 244.99L155.49 238.60L155.64 233.00L155.79 228.13L155.94 223.93L156.09 220.36L156.24 217.39L156.40 214.99L156.55 213.15L156.70 211.84L156.85 211.06L157.00 210.80L157.11 211.06L157.22 211.84L157.33 213.15L157.45 214.99L157.56 217.39L157.67 220.36L157.78 223.93L157.89 228.13L158.00 233.00L158.11 238.60L158.22 244.99L158.34 252.25L158.45 260.48L158.56 269.80L158.67 280.39L158.78 292.46L158.89 306.32L159.00 322.37L159.12 341.23L159.23 363.82L159.34 391.70L159.45 427.69L159.56 477.97L159.67 560.79L159.78 700.00L159.82 700.00L159.92 560.79L160.03 477.97L160.14 427.69L160.25 391.70L160.35 363.82L160.46 341.23L160.57 322.37L160.68 306.32L160.78 292.46L160.89 280.39L161.00 269.80L161.10 260.48L161.21 252.25L161.32 244.99L161.43 238.60L161.53 233.00L161.64 228.13L161.75 223.93L161.86 220.36L161.96 217.39L162.07 214.99L162.18 213.15L162.29 211.84L162.39 211.06L162.50 210.80L162.58 211.06L162.67 211.84L162.75 213.15L162.83 214.99L162.92 217.39L163.00 220.36L163.08 223.93L163.17 228.13L163.25 233.00L163.33 238.60L163.42 244.99L163.50 252.25L163.59 260.48L163.67 269.80L163.75 280.39L163.84 292.46L163.92 306.32L164.00 322.37L164.09 341.23L164.17 363.82L164.25 391.70L164.34 427.69L164.42 477.97L164.50 560.79L164.59 700.00L164.61 700.00L164.70 560.79L164.78 477.97L164.86 427.69L164.95 391.70L165.03 363.82L165.11 341.23L165.20 322.37L165.28 306.32L165.36 292.46L165.45 280.39L165.53 269.80L165.61 260.48L165.70 252.25L165.78 244.99L165.87 238.60L165.95 233.00L166.03 228.13L166.12 223.93L166.20 220.36L166.28 217.39L166.37 214.99L166.45 213.15L166.53 211.84L166.62 211.06L166.70 210.80L166.78 211.06L166.85 211.84L166.93 213.15L167.00 214.99L167.08 217.39L167.15 220.36L167.23 223.93L167.30 228.13L167.38 233.00L167.46 238.60L167.53 244.99L167.61 252.25L167.68 260.48L167.76 269.80L167.83 280.39L167.91 292.46L167.98 306.32L168.06 322.37L168.14 341.23L168.21 363.82L168.29 391.70L168.36 427.69L168.44 477.97L168.51 560.79L168.59 700.00" fill="none" stroke="#00a3cc" stroke-width="4" stroke-linejoin="round" stroke-linecap="round"/>
<path d="M869.30 258.50L868.10 256.50L866.60 252.50L865.00 247.50L863.60 240.00L862.00 230.00L860.60 221.00L859.30 214.60L858.30 211.90L857.40 211.00L857.11 211.06L856.81 211.84L856.52 213.15L856.22 214.99L855.93 217.39L855.63 220.36L855.34 223.93L855.05 228.13L854.75 233.00L854.46 238.60L854.16 244.99L853.87 252.25L853.58 260.48L853.28 269.80L852.99 280.39L852.69 292.46L852.40 306.32L852.10 322.37L851.81 341.23L851.52 363.82L851.22 391.70L850.93 427.69L850.63 477.97L850.34 560.79L850.04 700.00L849.97 700.00L849.75 560.79L849.53 477.97L849.31 427.69L849.09 391.70L848.87 363.82L848.65 341.23L848.44 322.37L848.22 306.32L848.00 292.46L847.78 280.39L847.56 269.80L847.34 260.48L847.12 252.25L846.91 244.99L846.69 238.60L846.47 233.00L846.25 228.13L846.03 223.93L845.81 220.36L845.59 217.39L845.37 214.99L845.16 213.15L844.94 211.84L844.72 211.06L844.50 210.80L844.33 211.06L844.16 211.84L843.99 213.15L843.82 214.99L843.65 217.39L843.47 220.36L843.30 223.93L843.13 228.13L842.96 233.00L842.79 238.60L842.62 244.99L842.45 252.25L842.28 260.48L842.11 269.80L841.94 280.39L841.76 292.46L841.59 306.32L841.42 322.37L841.25 341.23L841.08 363.82L840.91 391.70L840.74 427.69L840.57 477.97L840.40 560.79L840.23 590.00L840.18 590.00L840.04 560.79L839.89 477.97L839.75 427.69L839.61 391.70L839.46 363.82L839.32 341.23L839.18 322.37L839.03 306.32L838.89 292.46L838.75 280.39L838.60 269.80L838.46 260.48L838.32 252.25L838.17 244.99L838.03 238.60L837.89 233.00L837.75 228.13L837.60 223.93L837.46 220.36L837.32 217.39L837.17 214.99L837.03 213.15L836.89 211.84L836.74 211.06L836.60 210.80L836.47 211.06L836.35 211.84L836.22 213.15L836.09 214.99L835.96 217.39L835.84 220.36L835.71 223.93L835.58 228.13L835.45 233.00L835.33 238.60L835.20 244.99L835.07 252.25L834.95 260.48L834.82 269.80L834.69 280.39L834.56 292.46L834.44 306.32L834.31 322.37L834.18 341.23L834.06 363.82L833.93 391.70L833.80 427.69L833.67 477.97L833.55 560.79L833.42 635.50L833.38 635.50L833.23 560.79L833.08 477.97L832.92 427.69L832.77 391.70L832.62 363.82L832.47 341.23L832.32 322.37L832.17 306.32L832.02 292.46L831.87 280.39L831.72 269.80L831.56 260.48L831.41 252.25L831.26 244.99L831.11 238.60L830.96 233.00L830.81 228.13L830.66 223.93L830.51 220.36L830.36 217.39L830.20 214.99L830.05 213.15L829.90 211.84L829.75 211.06L829.60 210.80L829.49 211.06L829.38 211.84L829.27 213.15L829.15 214.99L829.04 217.39L828.93 220.36L828.82 223.93L828.71 228.13L828.60 233.00L828.49 238.60L828.38 244.99L828.26 252.25L828.15 260.48L828.04 269.80L827.93 280.39L827.82 292.46L827.71 306.32L827.60 322.37L827.48 341.23L827.37 363.82L827.26 391.70L827.15 427.69L827.04 477.97L826.93 560.79L826.82 700.00L826.78 700.00L826.68 560.79L826.57 477.97L826.46 427.69L826.35 391.70L826.25 363.82L826.14 341.23L826.03 322.37L825.92 306.32L825.82 292.46L825.71 280.39L825.60 269.80L825.50 260.48L825.39 252.25L825.28 244.99L825.17 238.60L825.07 233.00L824.96 228.13L824.85 223.93L824.74 220.36L824.64 217.39L824.53 214.99L824.42 213.15L824.31 211.84L824.21 211.06L824.10 210.80L824.02 211.06L823.93 211.84L823.85 213.15L823.77 214.99L823.68 217.39L823.60 220.36L823.52 223.93L823.43 228.13L823.35 233.00L823.27 238.60L823.18 244.99L823.10 252.25L823.01 260.48L822.93 269.80L822.85 280.39L822.76 292.46L822.68 306.32L822.60 322.37L822.51 341.23L822.43 363.82L822.35 391.70L822.26 427.69L822.18 477.97L822.10 560.79L822.01 700.00L821.99 700.00L821.90 560.79L821.82 477.97L821.74 427.69L821.65 391.70L821.57 363.82L821.49 341.23L821.40 322.37L821.32 306.32L821.24 292.46L821.15 280.39L821.07 269.80L820.99 260.48L820.90 252.25L820.82 244.99L820.73 238.60L820.65 233.00L820.57 228.13L820.48 223.93L820.40 220.36L820.32 217.39L820.23 214.99L820.15 213.15L820.07 211.84L819.98 211.06L819.90 210.80L819.82 211.06L819.75 211.84L819.67 213.15L819.60 214.99L819.52 217.39L819.45 220.36L819.37 223.93L819.30 228.13L819.22 233.00L819.14 238.60L819.07 244.99L818.99 252.25L818.92 260.48L818.84 269.80L818.77 280.39L818.69 292.46L818.62 306.32L818.54 322.37L818.46 341.23L818.39 363.82L818.31 391.70L818.24 427.69L818.16 477.97L818.09 560.79L818.01 700.00" fill="none" stroke="#00a3cc" stroke-width="4" stroke-linejoin="round" stroke-linecap="round"/>
<path d="M476.90 215.30L477.28 215.30L477.66 215.30L478.04 215.30L478.43 214.47L478.81 213.58L479.19 212.77L479.57 212.03L479.95 211.38L480.33 210.80L480.71 210.31L481.10 209.89L481.48 209.55L481.86 209.30L482.24 209.12L482.62 209.02L483.00 209.02L483.38 209.45L483.77 210.29L484.15 211.40L484.53 212.66L484.91 213.99L485.29 215.39L485.67 216.81L486.05 218.26L486.43 219.73L486.82 221.20L487.20 222.69L487.58 224.18L487.96 225.68L488.34 227.18L488.72 228.69L489.10 230.20L489.49 231.71L489.87 233.22L490.25 234.74L490.63 236.25L491.01 237.77L491.39 239.29L491.77 240.81L492.16 242.33L492.54 243.85L492.92 245.37L493.30 246.89L493.30 260.60L492.75 263.34L492.30 266.08L491.94 268.81L491.61 271.55L491.36 274.29L491.10 277.03L490.84 279.77L490.59 282.50L490.33 285.24L490.17 287.98L490.03 290.72L489.88 293.46L489.74 296.19L489.59 298.93L489.45 301.67L489.30 304.41L489.16 307.14L489.01 309.88L488.87 312.62L488.72 315.36L488.58 318.10L488.43 320.83L488.29 323.57L488.14 326.31L487.99 329.05L487.85 331.79L487.70 334.52L487.66 337.26L487.63 340.00L487.56 345.00L487.35 360.84L487.13 376.68L486.92 392.53L486.70 408.37L486.49 424.21L486.28 440.05L486.06 455.89L485.94 471.74L485.85 487.58L485.76 503.42L485.68 519.26L485.59 535.11L485.50 550.95L485.41 566.79L485.33 582.63L485.24 598.47L485.15 614.32L485.07 630.16L484.99 646.00L476.90 646.00Z" fill="#00a3cc"/>
<path d="M509.70 215.30L509.32 215.30L508.94 215.30L508.56 215.30L508.17 214.47L507.79 213.58L507.41 212.77L507.03 212.03L506.65 211.38L506.27 210.80L505.89 210.31L505.50 209.89L505.12 209.55L504.74 209.30L504.36 209.12L503.98 209.02L503.60 209.02L503.22 209.45L502.83 210.29L502.45 211.40L502.07 212.66L501.69 213.99L501.31 215.39L500.93 216.81L500.55 218.26L500.17 219.73L499.78 221.20L499.40 222.69L499.02 224.18L498.64 225.68L498.26 227.18L497.88 228.69L497.50 230.20L497.11 231.71L496.73 233.22L496.35 234.74L495.97 236.25L495.59 237.77L495.21 239.29L494.83 240.81L494.44 242.33L494.06 243.85L493.68 245.37L493.30 246.89L493.30 260.60L493.85 263.34L494.30 266.08L494.66 268.81L494.99 271.55L495.24 274.29L495.50 277.03L495.76 279.77L496.01 282.50L496.27 285.24L496.43 287.98L496.57 290.72L496.72 293.46L496.86 296.19L497.01 298.93L497.15 301.67L497.30 304.41L497.44 307.14L497.59 309.88L497.73 312.62L497.88 315.36L498.02 318.10L498.17 320.83L498.31 323.57L498.46 326.31L498.61 329.05L498.75 331.79L498.90 334.52L498.94 337.26L498.97 340.00L499.04 345.00L499.25 360.84L499.47 376.68L499.68 392.53L499.90 408.37L500.11 424.21L500.32 440.05L500.54 455.89L500.66 471.74L500.75 487.58L500.84 503.42L500.92 519.26L501.01 535.11L501.10 550.95L501.19 566.79L501.27 582.63L501.36 598.47L501.45 614.32L501.53 630.16L501.61 646.00L509.70 646.00Z" fill="#00a3cc"/>
<rect x="477.90" y="362" width="0.8" height="110" fill="#fff"/>
<rect x="476.80" y="470" width="3.0" height="176" fill="#fff"/>
<rect x="476.80" y="483.5" width="3.0" height="2" fill="#b8c5d2"/>
<rect x="507.90" y="362" width="0.8" height="110" fill="#fff"/>
<rect x="506.80" y="470" width="3.0" height="176" fill="#fff"/>
<rect x="506.80" y="483.5" width="3.0" height="2" fill="#b8c5d2"/>
<rect x="416.2" y="42.7" width="4.7" height="170" fill="#00a3cc"/>
</g>
<rect x="117.6" y="42.7" width="749.9" height="599.6" fill="none" stroke="#103e6c" stroke-width="3.2"/>
<g font-size="25">
<text x="104.9" y="53" text-anchor="end" textLength="16" lengthAdjust="spacingAndGlyphs">0</text>
<text x="104.3" y="191" text-anchor="end">–10</text>
<text x="104.3" y="341.6" text-anchor="end">–20</text>
<text x="104.3" y="492.6" text-anchor="end">–30</text>
<text x="104.3" y="651" text-anchor="end">–40</text>
<text x="119" y="680.1" text-anchor="middle" textLength="16" lengthAdjust="spacingAndGlyphs">0</text>
<text x="258.2" y="680.1" text-anchor="middle">10</text>
<text x="402.5" y="680.1" text-anchor="middle">20</text>
<text x="558" y="676.1" text-anchor="middle">30</text>
<text x="709.7" y="678.1" text-anchor="middle">40</text>
<text x="868" y="680.1" text-anchor="middle">50</text>
<text x="392.2" y="728.7" textLength="201.6" lengthAdjust="spacingAndGlyphs">Frequency (MHz)</text>
<text transform="translate(37.4 342.6) rotate(-90)" text-anchor="middle" textLength="182.2" lengthAdjust="spacingAndGlyphs">Magnitude (dB)</text>
<rect x="425" y="52.6" width="160" height="41.2" fill="#fff"/>
<text x="435.2" y="80.8" textLength="138.3" lengthAdjust="spacingAndGlyphs">Real Target</text>
<rect x="524.9" y="157.3" width="114.5" height="40.7" fill="#fff"/>
<text x="533.2" y="185.9" textLength="98" lengthAdjust="spacingAndGlyphs">Jammer</text>
</g>
<defs>
<linearGradient id="gj" x1="0" y1="0" x2="1" y2="0">
<stop offset="0.0000" stop-color="#00008f"/>
<stop offset="0.0192" stop-color="#0000b1"/>
<stop offset="0.0385" stop-color="#0000f9"/>
<stop offset="0.0577" stop-color="#0027ff"/>
<stop offset="0.0769" stop-color="#004eff"/>
<stop offset="0.0962" stop-color="#0074ff"/>
<stop offset="0.1154" stop-color="#00a1ff"/>
<stop offset="0.1346" stop-color="#00d4ff"/>
<stop offset="0.1538" stop-color="#08fff7"/>
<stop offset="0.1731" stop-color="#34ffcb"/>
<stop offset="0.1923" stop-color="#60ff9f"/>
<stop offset="0.2115" stop-color="#8bff74"/>
<stop offset="0.2308" stop-color="#aeff51"/>
<stop offset="0.2500" stop-color="#d2ff2d"/>
<stop offset="0.2692" stop-color="#f5ff0a"/>
<stop offset="0.2885" stop-color="#ffe000"/>
<stop offset="0.3077" stop-color="#ffb300"/>
<stop offset="0.3269" stop-color="#ff8500"/>
<stop offset="0.3462" stop-color="#ff5600"/>
<stop offset="0.3654" stop-color="#ff2700"/>
<stop offset="0.3846" stop-color="#f90000"/>
<stop offset="0.4038" stop-color="#f30000"/>
<stop offset="0.4231" stop-color="#ee0000"/>
<stop offset="0.4423" stop-color="#e90000"/>
<stop offset="0.4615" stop-color="#e70000"/>
<stop offset="0.4808" stop-color="#e60000"/>
<stop offset="0.5000" stop-color="#e40000"/>
<stop offset="0.5192" stop-color="#e60000"/>
<stop offset="0.5385" stop-color="#e70000"/>
<stop offset="0.5577" stop-color="#e90000"/>
<stop offset="0.5769" stop-color="#ee0000"/>
<stop offset="0.5962" stop-color="#f30000"/>
<stop offset="0.6154" stop-color="#f90000"/>
<stop offset="0.6346" stop-color="#ff2700"/>
<stop offset="0.6538" stop-color="#ff5600"/>
<stop offset="0.6731" stop-color="#ff8500"/>
<stop offset="0.6923" stop-color="#ffb300"/>
<stop offset="0.7115" stop-color="#ffe000"/>
<stop offset="0.7308" stop-color="#f5ff0a"/>
<stop offset="0.7500" stop-color="#d2ff2d"/>
<stop offset="0.7692" stop-color="#aeff51"/>
<stop offset="0.7885" stop-color="#8bff74"/>
<stop offset="0.8077" stop-color="#60ff9f"/>
<stop offset="0.8269" stop-color="#34ffcb"/>
<stop offset="0.8462" stop-color="#08fff7"/>
<stop offset="0.8654" stop-color="#00d4ff"/>
<stop offset="0.8846" stop-color="#00a1ff"/>
<stop offset="0.9038" stop-color="#0074ff"/>
<stop offset="0.9231" stop-color="#004eff"/>
<stop offset="0.9423" stop-color="#0027ff"/>
<stop offset="0.9615" stop-color="#0000f9"/>
<stop offset="0.9808" stop-color="#0000b1"/>
<stop offset="1.0000" stop-color="#00008f"/>
</linearGradient>
<linearGradient id="gc" x1="0" y1="0" x2="1" y2="0">
<stop offset="0.0000" stop-color="#00edff"/>
<stop offset="0.0192" stop-color="#00edff"/>
<stop offset="0.0385" stop-color="#00edff"/>
<stop offset="0.0577" stop-color="#00edff"/>
<stop offset="0.0769" stop-color="#00edff"/>
<stop offset="0.0962" stop-color="#00edff"/>
<stop offset="0.1154" stop-color="#00edff"/>
<stop offset="0.1346" stop-color="#00edff"/>
<stop offset="0.1538" stop-color="#08fff7"/>
<stop offset="0.1731" stop-color="#34ffcb"/>
<stop offset="0.1923" stop-color="#60ff9f"/>
<stop offset="0.2115" stop-color="#8bff74"/>
<stop offset="0.2308" stop-color="#aeff51"/>
<stop offset="0.2500" stop-color="#d2ff2d"/>
<stop offset="0.2692" stop-color="#f5ff0a"/>
<stop offset="0.2885" stop-color="#ffe000"/>
<stop offset="0.3077" stop-color="#ffb300"/>
<stop offset="0.3269" stop-color="#ff8500"/>
<stop offset="0.3462" stop-color="#ff5600"/>
<stop offset="0.3654" stop-color="#ff2700"/>
<stop offset="0.3846" stop-color="#f90000"/>
<stop offset="0.4038" stop-color="#f30000"/>
<stop offset="0.4231" stop-color="#ee0000"/>
<stop offset="0.4423" stop-color="#e90000"/>
<stop offset="0.4615" stop-color="#e70000"/>
<stop offset="0.4808" stop-color="#e60000"/>
<stop offset="0.5000" stop-color="#e40000"/>
<stop offset="0.5192" stop-color="#e60000"/>
<stop offset="0.5385" stop-color="#e70000"/>
<stop offset="0.5577" stop-color="#e90000"/>
<stop offset="0.5769" stop-color="#ee0000"/>
<stop offset="0.5962" stop-color="#f30000"/>
<stop offset="0.6154" stop-color="#f90000"/>
<stop offset="0.6346" stop-color="#ff2700"/>
<stop offset="0.6538" stop-color="#ff5600"/>
<stop offset="0.6731" stop-color="#ff8500"/>
<stop offset="0.6923" stop-color="#ffb300"/>
<stop offset="0.7115" stop-color="#ffe000"/>
<stop offset="0.7308" stop-color="#f5ff0a"/>
<stop offset="0.7500" stop-color="#d2ff2d"/>
<stop offset="0.7692" stop-color="#aeff51"/>
<stop offset="0.7885" stop-color="#8bff74"/>
<stop offset="0.8077" stop-color="#60ff9f"/>
<stop offset="0.8269" stop-color="#34ffcb"/>
<stop offset="0.8462" stop-color="#08fff7"/>
<stop offset="0.8654" stop-color="#00edff"/>
<stop offset="0.8846" stop-color="#00edff"/>
<stop offset="0.9038" stop-color="#00edff"/>
<stop offset="0.9231" stop-color="#00edff"/>
<stop offset="0.9423" stop-color="#00edff"/>
<stop offset="0.9615" stop-color="#00edff"/>
<stop offset="0.9808" stop-color="#00edff"/>
<stop offset="1.0000" stop-color="#00edff"/>
</linearGradient>
<linearGradient id="gg" x1="0" y1="0" x2="1" y2="0">
<stop offset="0.0000" stop-color="#87ff78"/>
<stop offset="0.0192" stop-color="#87ff78"/>
<stop offset="0.0385" stop-color="#87ff78"/>
<stop offset="0.0577" stop-color="#87ff78"/>
<stop offset="0.0769" stop-color="#87ff78"/>
<stop offset="0.0962" stop-color="#87ff78"/>
<stop offset="0.1154" stop-color="#87ff78"/>
<stop offset="0.1346" stop-color="#87ff78"/>
<stop offset="0.1538" stop-color="#87ff78"/>
<stop offset="0.1731" stop-color="#87ff78"/>
<stop offset="0.1923" stop-color="#87ff78"/>
<stop offset="0.2115" stop-color="#8bff74"/>
<stop offset="0.2308" stop-color="#aeff51"/>
<stop offset="0.2500" stop-color="#d2ff2d"/>
<stop offset="0.2692" stop-color="#f5ff0a"/>
<stop offset="0.2885" stop-color="#ffe000"/>
<stop offset="0.3077" stop-color="#ffb300"/>
<stop offset="0.3269" stop-color="#ff8500"/>
<stop offset="0.3462" stop-color="#ff5600"/>
<stop offset="0.3654" stop-color="#ff2700"/>
<stop offset="0.3846" stop-color="#f90000"/>
<stop offset="0.4038" stop-color="#f30000"/>
<stop offset="0.4231" stop-color="#ee0000"/>
<stop offset="0.4423" stop-color="#e90000"/>
<stop offset="0.4615" stop-color="#e70000"/>
<stop offset="0.4808" stop-color="#e60000"/>
<stop offset="0.5000" stop-color="#e40000"/>
<stop offset="0.5192" stop-color="#e60000"/>
<stop offset="0.5385" stop-color="#e70000"/>
<stop offset="0.5577" stop-color="#e90000"/>
<stop offset="0.5769" stop-color="#ee0000"/>
<stop offset="0.5962" stop-color="#f30000"/>
<stop offset="0.6154" stop-color="#f90000"/>
<stop offset="0.6346" stop-color="#ff2700"/>
<stop offset="0.6538" stop-color="#ff5600"/>
<stop offset="0.6731" stop-color="#ff8500"/>
<stop offset="0.6923" stop-color="#ffb300"/>
<stop offset="0.7115" stop-color="#ffe000"/>
<stop offset="0.7308" stop-color="#f5ff0a"/>
<stop offset="0.7500" stop-color="#d2ff2d"/>
<stop offset="0.7692" stop-color="#aeff51"/>
<stop offset="0.7885" stop-color="#8bff74"/>
<stop offset="0.8077" stop-color="#87ff78"/>
<stop offset="0.8269" stop-color="#87ff78"/>
<stop offset="0.8462" stop-color="#87ff78"/>
<stop offset="0.8654" stop-color="#87ff78"/>
<stop offset="0.8846" stop-color="#87ff78"/>
<stop offset="0.9038" stop-color="#87ff78"/>
<stop offset="0.9231" stop-color="#87ff78"/>
<stop offset="0.9423" stop-color="#87ff78"/>
<stop offset="0.9615" stop-color="#87ff78"/>
<stop offset="0.9808" stop-color="#87ff78"/>
<stop offset="1.0000" stop-color="#87ff78"/>
</linearGradient>
<clipPath id="rc"><rect x="1053.6" y="42.7" width="785.8" height="599.6"/></clipPath>
</defs>
<defs>
<linearGradient id="gk47" gradientUnits="userSpaceOnUse" x1="1395.43" y1="0" x2="1495.58" y2="0">
<stop offset="0.0000" stop-color="#00008f"/>
<stop offset="0.0125" stop-color="#0000c3"/>
<stop offset="0.0250" stop-color="#0014ff"/>
<stop offset="0.0375" stop-color="#0044ff"/>
<stop offset="0.0500" stop-color="#0074ff"/>
<stop offset="0.0625" stop-color="#00aeff"/>
<stop offset="0.0750" stop-color="#00eeff"/>
<stop offset="0.0875" stop-color="#2affd5"/>
<stop offset="0.1000" stop-color="#61ff9e"/>
<stop offset="0.1125" stop-color="#94ff6b"/>
<stop offset="0.1250" stop-color="#c1ff3e"/>
<stop offset="0.1375" stop-color="#edff12"/>
<stop offset="0.1500" stop-color="#ffdf00"/>
<stop offset="0.1625" stop-color="#ffa600"/>
<stop offset="0.1750" stop-color="#ff6d00"/>
<stop offset="0.1875" stop-color="#ff3200"/>
<stop offset="0.2000" stop-color="#f80000"/>
<stop offset="0.2125" stop-color="#f20000"/>
<stop offset="0.2250" stop-color="#ec0000"/>
<stop offset="0.2375" stop-color="#e80000"/>
<stop offset="0.2500" stop-color="#e60000"/>
<stop offset="0.2625" stop-color="#e50000"/>
<stop offset="0.2750" stop-color="#e70000"/>
<stop offset="0.2875" stop-color="#e90000"/>
<stop offset="0.3000" stop-color="#ef0000"/>
<stop offset="0.3125" stop-color="#f50000"/>
<stop offset="0.3250" stop-color="#ff1200"/>
<stop offset="0.3375" stop-color="#ff4d00"/>
<stop offset="0.3500" stop-color="#ff8800"/>
<stop offset="0.3625" stop-color="#ffc100"/>
<stop offset="0.3750" stop-color="#fff900"/>
<stop offset="0.3875" stop-color="#d9ff26"/>
<stop offset="0.4000" stop-color="#acff53"/>
<stop offset="0.4125" stop-color="#7eff81"/>
<stop offset="0.4250" stop-color="#47ffb8"/>
<stop offset="0.4375" stop-color="#10ffef"/>
<stop offset="0.4500" stop-color="#00d1ff"/>
<stop offset="0.4625" stop-color="#0091ff"/>
<stop offset="0.4750" stop-color="#005eff"/>
<stop offset="0.4875" stop-color="#002eff"/>
<stop offset="0.5000" stop-color="#0000f3"/>
<stop offset="0.5125" stop-color="#002eff"/>
<stop offset="0.5250" stop-color="#005eff"/>
<stop offset="0.5375" stop-color="#0091ff"/>
<stop offset="0.5500" stop-color="#00d1ff"/>
<stop offset="0.5625" stop-color="#10ffef"/>
<stop offset="0.5750" stop-color="#47ffb8"/>
<stop offset="0.5875" stop-color="#7eff81"/>
<stop offset="0.6000" stop-color="#acff53"/>
<stop offset="0.6125" stop-color="#d9ff26"/>
<stop offset="0.6250" stop-color="#fff900"/>
<stop offset="0.6375" stop-color="#ffc100"/>
<stop offset="0.6500" stop-color="#ff8800"/>
<stop offset="0.6625" stop-color="#ff4d00"/>
<stop offset="0.6750" stop-color="#ff1200"/>
<stop offset="0.6875" stop-color="#f50000"/>
<stop offset="0.7000" stop-color="#ef0000"/>
<stop offset="0.7125" stop-color="#e90000"/>
<stop offset="0.7250" stop-color="#e70000"/>
<stop offset="0.7375" stop-color="#e50000"/>
<stop offset="0.7500" stop-color="#e60000"/>
<stop offset="0.7625" stop-color="#e80000"/>
<stop offset="0.7750" stop-color="#ec0000"/>
<stop offset="0.7875" stop-color="#f20000"/>
<stop offset="0.8000" stop-color="#f80000"/>
<stop offset="0.8125" stop-color="#ff3200"/>
<stop offset="0.8250" stop-color="#ff6d00"/>
<stop offset="0.8375" stop-color="#ffa600"/>
<stop offset="0.8500" stop-color="#ffdf00"/>
<stop offset="0.8625" stop-color="#edff12"/>
<stop offset="0.8750" stop-color="#c1ff3e"/>
<stop offset="0.8875" stop-color="#94ff6b"/>
<stop offset="0.9000" stop-color="#61ff9e"/>
<stop offset="0.9125" stop-color="#2affd5"/>
<stop offset="0.9250" stop-color="#00eeff"/>
<stop offset="0.9375" stop-color="#00aeff"/>
<stop offset="0.9500" stop-color="#0074ff"/>
<stop offset="0.9625" stop-color="#0044ff"/>
<stop offset="0.9750" stop-color="#0014ff"/>
<stop offset="0.9875" stop-color="#0000c3"/>
<stop offset="1.0000" stop-color="#00008f"/>
</linearGradient>
<linearGradient id="gk48" gradientUnits="userSpaceOnUse" x1="1403.42" y1="0" x2="1487.52" y2="0">
<stop offset="0.0000" stop-color="#00008f"/>
<stop offset="0.0125" stop-color="#0000b5"/>
<stop offset="0.0250" stop-color="#0001ff"/>
<stop offset="0.0375" stop-color="#002dff"/>
<stop offset="0.0500" stop-color="#0055ff"/>
<stop offset="0.0625" stop-color="#007eff"/>
<stop offset="0.0750" stop-color="#00b1ff"/>
<stop offset="0.0875" stop-color="#00e6ff"/>
<stop offset="0.1000" stop-color="#1affe5"/>
<stop offset="0.1125" stop-color="#48ffb7"/>
<stop offset="0.1250" stop-color="#76ff89"/>
<stop offset="0.1375" stop-color="#9fff60"/>
<stop offset="0.1500" stop-color="#c4ff3b"/>
<stop offset="0.1625" stop-color="#e9ff16"/>
<stop offset="0.1750" stop-color="#ffed00"/>
<stop offset="0.1875" stop-color="#ffbd00"/>
<stop offset="0.2000" stop-color="#ff8d00"/>
<stop offset="0.2125" stop-color="#ff5d00"/>
<stop offset="0.2250" stop-color="#ff2b00"/>
<stop offset="0.2375" stop-color="#fa0000"/>
<stop offset="0.2500" stop-color="#f30000"/>
<stop offset="0.2625" stop-color="#ee0000"/>
<stop offset="0.2750" stop-color="#e90000"/>
<stop offset="0.2875" stop-color="#e70000"/>
<stop offset="0.3000" stop-color="#e50000"/>
<stop offset="0.3125" stop-color="#e50000"/>
<stop offset="0.3250" stop-color="#e60000"/>
<stop offset="0.3375" stop-color="#e80000"/>
<stop offset="0.3500" stop-color="#eb0000"/>
<stop offset="0.3625" stop-color="#f10000"/>
<stop offset="0.3750" stop-color="#f60000"/>
<stop offset="0.3875" stop-color="#ff1400"/>
<stop offset="0.4000" stop-color="#ff4500"/>
<stop offset="0.4125" stop-color="#ff7700"/>
<stop offset="0.4250" stop-color="#ffa700"/>
<stop offset="0.4375" stop-color="#ffd700"/>
<stop offset="0.4500" stop-color="#fbff04"/>
<stop offset="0.4625" stop-color="#d6ff29"/>
<stop offset="0.4750" stop-color="#b0ff4f"/>
<stop offset="0.4875" stop-color="#8bff74"/>
<stop offset="0.5000" stop-color="#5effa1"/>
<stop offset="0.5125" stop-color="#8bff74"/>
<stop offset="0.5250" stop-color="#b0ff4f"/>
<stop offset="0.5375" stop-color="#d6ff29"/>
<stop offset="0.5500" stop-color="#fbff04"/>
<stop offset="0.5625" stop-color="#ffd700"/>
<stop offset="0.5750" stop-color="#ffa700"/>
<stop offset="0.5875" stop-color="#ff7700"/>
<stop offset="0.6000" stop-color="#ff4500"/>
<stop offset="0.6125" stop-color="#ff1400"/>
<stop offset="0.6250" stop-color="#f60000"/>
<stop offset="0.6375" stop-color="#f10000"/>
<stop offset="0.6500" stop-color="#eb0000"/>
<stop offset="0.6625" stop-color="#e80000"/>
<stop offset="0.6750" stop-color="#e60000"/>
<stop offset="0.6875" stop-color="#e50000"/>
<stop offset="0.7000" stop-color="#e50000"/>
<stop offset="0.7125" stop-color="#e70000"/>
<stop offset="0.7250" stop-color="#e90000"/>
<stop offset="0.7375" stop-color="#ee0000"/>
<stop offset="0.7500" stop-color="#f30000"/>
<stop offset="0.7625" stop-color="#fa0000"/>
<stop offset="0.7750" stop-color="#ff2b00"/>
<stop offset="0.7875" stop-color="#ff5d00"/>
<stop offset="0.8000" stop-color="#ff8d00"/>
<stop offset="0.8125" stop-color="#ffbd00"/>
<stop offset="0.8250" stop-color="#ffed00"/>
<stop offset="0.8375" stop-color="#e9ff16"/>
<stop offset="0.8500" stop-color="#c4ff3b"/>
<stop offset="0.8625" stop-color="#9fff60"/>
<stop offset="0.8750" stop-color="#76ff89"/>
<stop offset="0.8875" stop-color="#48ffb7"/>
<stop offset="0.9000" stop-color="#1affe5"/>
<stop offset="0.9125" stop-color="#00e6ff"/>
<stop offset="0.9250" stop-color="#00b1ff"/>
<stop offset="0.9375" stop-color="#007eff"/>
<stop offset="0.9500" stop-color="#0055ff"/>
<stop offset="0.9625" stop-color="#002dff"/>
<stop offset="0.9750" stop-color="#0001ff"/>
<stop offset="0.9875" stop-color="#0000b5"/>
<stop offset="1.0000" stop-color="#00008f"/>
</linearGradient>
<linearGradient id="gk49" gradientUnits="userSpaceOnUse" x1="1411.41" y1="0" x2="1479.46" y2="0">
<stop offset="0.0000" stop-color="#00008f"/>
<stop offset="0.0125" stop-color="#0000a7"/>
<stop offset="0.0250" stop-color="#0000e3"/>
<stop offset="0.0375" stop-color="#0016ff"/>
<stop offset="0.0500" stop-color="#0036ff"/>
<stop offset="0.0625" stop-color="#0057ff"/>
<stop offset="0.0750" stop-color="#0078ff"/>
<stop offset="0.0875" stop-color="#009fff"/>
<stop offset="0.1000" stop-color="#00caff"/>
<stop offset="0.1125" stop-color="#00f5ff"/>
<stop offset="0.1250" stop-color="#1effe1"/>
<stop offset="0.1375" stop-color="#44ffbb"/>
<stop offset="0.1500" stop-color="#69ff96"/>
<stop offset="0.1625" stop-color="#8dff72"/>
<stop offset="0.1750" stop-color="#abff54"/>
<stop offset="0.1875" stop-color="#c9ff36"/>
<stop offset="0.2000" stop-color="#e7ff18"/>
<stop offset="0.2125" stop-color="#fff800"/>
<stop offset="0.2250" stop-color="#ffd200"/>
<stop offset="0.2375" stop-color="#ffab00"/>
<stop offset="0.2500" stop-color="#ff8500"/>
<stop offset="0.2625" stop-color="#ff5d00"/>
<stop offset="0.2750" stop-color="#ff3500"/>
<stop offset="0.2875" stop-color="#ff0d00"/>
<stop offset="0.3000" stop-color="#f60000"/>
<stop offset="0.3125" stop-color="#f20000"/>
<stop offset="0.3250" stop-color="#ee0000"/>
<stop offset="0.3375" stop-color="#e90000"/>
<stop offset="0.3500" stop-color="#e80000"/>
<stop offset="0.3625" stop-color="#e60000"/>
<stop offset="0.3750" stop-color="#e50000"/>
<stop offset="0.3875" stop-color="#e50000"/>
<stop offset="0.4000" stop-color="#e60000"/>
<stop offset="0.4125" stop-color="#e80000"/>
<stop offset="0.4250" stop-color="#e90000"/>
<stop offset="0.4375" stop-color="#ed0000"/>
<stop offset="0.4500" stop-color="#f20000"/>
<stop offset="0.4625" stop-color="#f60000"/>
<stop offset="0.4750" stop-color="#ff0700"/>
<stop offset="0.4875" stop-color="#ff2f00"/>
<stop offset="0.5000" stop-color="#ff5800"/>
<stop offset="0.5125" stop-color="#ff2f00"/>
<stop offset="0.5250" stop-color="#ff0700"/>
<stop offset="0.5375" stop-color="#f60000"/>
<stop offset="0.5500" stop-color="#f20000"/>
<stop offset="0.5625" stop-color="#ed0000"/>
<stop offset="0.5750" stop-color="#e90000"/>
<stop offset="0.5875" stop-color="#e80000"/>
<stop offset="0.6000" stop-color="#e60000"/>
<stop offset="0.6125" stop-color="#e50000"/>
<stop offset="0.6250" stop-color="#e50000"/>
<stop offset="0.6375" stop-color="#e60000"/>
<stop offset="0.6500" stop-color="#e80000"/>
<stop offset="0.6625" stop-color="#e90000"/>
<stop offset="0.6750" stop-color="#ee0000"/>
<stop offset="0.6875" stop-color="#f20000"/>
<stop offset="0.7000" stop-color="#f60000"/>
<stop offset="0.7125" stop-color="#ff0d00"/>
<stop offset="0.7250" stop-color="#ff3500"/>
<stop offset="0.7375" stop-color="#ff5d00"/>
<stop offset="0.7500" stop-color="#ff8500"/>
<stop offset="0.7625" stop-color="#ffab00"/>
<stop offset="0.7750" stop-color="#ffd200"/>
<stop offset="0.7875" stop-color="#fff800"/>
<stop offset="0.8000" stop-color="#e7ff18"/>
<stop offset="0.8125" stop-color="#c9ff36"/>
<stop offset="0.8250" stop-color="#abff54"/>
<stop offset="0.8375" stop-color="#8dff72"/>
<stop offset="0.8500" stop-color="#69ff96"/>
<stop offset="0.8625" stop-color="#44ffbb"/>
<stop offset="0.8750" stop-color="#1effe1"/>
<stop offset="0.8875" stop-color="#00f5ff"/>
<stop offset="0.9000" stop-color="#00caff"/>
<stop offset="0.9125" stop-color="#009fff"/>
<stop offset="0.9250" stop-color="#0078ff"/>
<stop offset="0.9375" stop-color="#0057ff"/>
<stop offset="0.9500" stop-color="#0036ff"/>
<stop offset="0.9625" stop-color="#0016ff"/>
<stop offset="0.9750" stop-color="#0000e3"/>
<stop offset="0.9875" stop-color="#0000a7"/>
<stop offset="1.0000" stop-color="#00008f"/>
</linearGradient>
<linearGradient id="gk50" gradientUnits="userSpaceOnUse" x1="1419.40" y1="0" x2="1471.40" y2="0">
<stop offset="0.0000" stop-color="#00008f"/>
<stop offset="0.0096" stop-color="#00009d"/>
<stop offset="0.0192" stop-color="#0000b3"/>
<stop offset="0.0288" stop-color="#0000c9"/>
<stop offset="0.0385" stop-color="#0000dc"/>
<stop offset="0.0481" stop-color="#0000ef"/>
<stop offset="0.0577" stop-color="#0004ff"/>
<stop offset="0.0673" stop-color="#0017ff"/>
<stop offset="0.0769" stop-color="#0031ff"/>
<stop offset="0.0865" stop-color="#004aff"/>
<stop offset="0.0962" stop-color="#0064ff"/>
<stop offset="0.1058" stop-color="#007dff"/>
<stop offset="0.1154" stop-color="#00a9ff"/>
<stop offset="0.1250" stop-color="#00d6ff"/>
<stop offset="0.1346" stop-color="#03fffc"/>
<stop offset="0.1442" stop-color="#05fffa"/>
<stop offset="0.1538" stop-color="#06fff9"/>
<stop offset="0.1635" stop-color="#08fff7"/>
<stop offset="0.1731" stop-color="#0afff5"/>
<stop offset="0.1827" stop-color="#0bfff4"/>
<stop offset="0.1923" stop-color="#0dfff2"/>
<stop offset="0.2019" stop-color="#14ffeb"/>
<stop offset="0.2115" stop-color="#1cffe3"/>
<stop offset="0.2212" stop-color="#46ffb9"/>
<stop offset="0.2308" stop-color="#feff01"/>
<stop offset="0.2404" stop-color="#ff6f00"/>
<stop offset="0.2500" stop-color="#ff7800"/>
<stop offset="0.2596" stop-color="#ff8200"/>
<stop offset="0.2692" stop-color="#ff9600"/>
<stop offset="0.2788" stop-color="#ffab00"/>
<stop offset="0.2885" stop-color="#ffbf00"/>
<stop offset="0.2981" stop-color="#ffd300"/>
<stop offset="0.3077" stop-color="#ffd800"/>
<stop offset="0.3173" stop-color="#ffde00"/>
<stop offset="0.3269" stop-color="#ffe300"/>
<stop offset="0.3365" stop-color="#ffe800"/>
<stop offset="0.3462" stop-color="#ffce00"/>
<stop offset="0.3558" stop-color="#ffb500"/>
<stop offset="0.3654" stop-color="#ff9b00"/>
<stop offset="0.3750" stop-color="#ff8200"/>
<stop offset="0.3846" stop-color="#ff7200"/>
<stop offset="0.3942" stop-color="#ff6200"/>
<stop offset="0.4038" stop-color="#ff1500"/>
<stop offset="0.4135" stop-color="#a30000"/>
<stop offset="0.4231" stop-color="#a30000"/>
<stop offset="0.4327" stop-color="#a30000"/>
<stop offset="0.4423" stop-color="#a30000"/>
<stop offset="0.4519" stop-color="#a30000"/>
<stop offset="0.4615" stop-color="#a30000"/>
<stop offset="0.4712" stop-color="#a30000"/>
<stop offset="0.4808" stop-color="#a30000"/>
<stop offset="0.4904" stop-color="#a30000"/>
<stop offset="0.5000" stop-color="#a30000"/>
<stop offset="0.5096" stop-color="#a30000"/>
<stop offset="0.5192" stop-color="#a30000"/>
<stop offset="0.5288" stop-color="#a30000"/>
<stop offset="0.5385" stop-color="#a30000"/>
<stop offset="0.5481" stop-color="#a30000"/>
<stop offset="0.5577" stop-color="#a30000"/>
<stop offset="0.5673" stop-color="#a30000"/>
<stop offset="0.5769" stop-color="#a30000"/>
<stop offset="0.5865" stop-color="#a30000"/>
<stop offset="0.5962" stop-color="#ff1500"/>
<stop offset="0.6058" stop-color="#ff6200"/>
<stop offset="0.6154" stop-color="#ff7200"/>
<stop offset="0.6250" stop-color="#ff8200"/>
<stop offset="0.6346" stop-color="#ff9b00"/>
<stop offset="0.6442" stop-color="#ffb500"/>
<stop offset="0.6538" stop-color="#ffce00"/>
<stop offset="0.6635" stop-color="#ffe800"/>
<stop offset="0.6731" stop-color="#ffe300"/>
<stop offset="0.6827" stop-color="#ffde00"/>
<stop offset="0.6923" stop-color="#ffd800"/>
<stop offset="0.7019" stop-color="#ffd300"/>
<stop offset="0.7115" stop-color="#ffbf00"/>
<stop offset="0.7212" stop-color="#ffab00"/>
<stop offset="0.7308" stop-color="#ff9600"/>
<stop offset="0.7404" stop-color="#ff8200"/>
<stop offset="0.7500" stop-color="#ff7800"/>
<stop offset="0.7596" stop-color="#ff6f00"/>
<stop offset="0.7692" stop-color="#feff01"/>
<stop offset="0.7788" stop-color="#46ffb9"/>
<stop offset="0.7885" stop-color="#1cffe3"/>
<stop offset="0.7981" stop-color="#14ffeb"/>
<stop offset="0.8077" stop-color="#0dfff2"/>
<stop offset="0.8173" stop-color="#0bfff4"/>
<stop offset="0.8269" stop-color="#0afff5"/>
<stop offset="0.8365" stop-color="#08fff7"/>
<stop offset="0.8462" stop-color="#06fff9"/>
<stop offset="0.8558" stop-color="#05fffa"/>
<stop offset="0.8654" stop-color="#03fffc"/>
<stop offset="0.8750" stop-color="#00d6ff"/>
<stop offset="0.8846" stop-color="#00a9ff"/>
<stop offset="0.8942" stop-color="#007dff"/>
<stop offset="0.9038" stop-color="#0064ff"/>
<stop offset="0.9135" stop-color="#004aff"/>
<stop offset="0.9231" stop-color="#0031ff"/>
<stop offset="0.9327" stop-color="#0017ff"/>
<stop offset="0.9423" stop-color="#0004ff"/>
<stop offset="0.9519" stop-color="#0000ef"/>
<stop offset="0.9615" stop-color="#0000dc"/>
<stop offset="0.9712" stop-color="#0000c9"/>
<stop offset="0.9808" stop-color="#0000b3"/>
<stop offset="0.9904" stop-color="#00009d"/>
<stop offset="1.0000" stop-color="#00008f"/>
</linearGradient>
</defs>
<rect x="1053.6" y="42.7" width="785.8" height="599.6" fill="#00008f"/>
<g clip-path="url(#rc)" shape-rendering="crispEdges">
<rect x="1226.6" y="327.5" width="1.6" height="68.2" fill="#0000b6"/>
<rect x="1121.8" y="166.8" width="1.0" height="78.6" fill="#0000a2"/>
<rect x="1224.3" y="193.6" width="1.0" height="98.1" fill="#0000c0"/>
<rect x="1283.8" y="293.0" width="1.0" height="87.5" fill="#0000c0"/>
<rect x="1294.8" y="415.8" width="1.6" height="37.8" fill="#0000a2"/>
<rect x="1057.9" y="-46.7" width="1.0" height="94.8" fill="#0000b6"/>
<rect x="1301.7" y="336.3" width="1.3" height="67.6" fill="#0000a8"/>
<rect x="1444.5" y="647.1" width="1.0" height="85.3" fill="#0000a8"/>
<rect x="1250.8" y="287.5" width="1.3" height="42.9" fill="#00009c"/>
<rect x="1200.3" y="287.7" width="1.0" height="35.3" fill="#0000a2"/>
<rect x="1233.7" y="330.5" width="1.0" height="40.4" fill="#0000c0"/>
<rect x="1356.9" y="434.6" width="1.0" height="58.8" fill="#0000af"/>
<rect x="1099.7" y="127.7" width="1.0" height="68.1" fill="#0000af"/>
<rect x="1318.4" y="325.8" width="1.3" height="104.8" fill="#0000a2"/>
<rect x="1303.1" y="359.0" width="1.6" height="50.3" fill="#0000a8"/>
<rect x="1167.4" y="230.3" width="1.6" height="63.1" fill="#0000b6"/>
<rect x="1276.4" y="307.5" width="1.6" height="66.5" fill="#00009c"/>
<rect x="1177.3" y="187.4" width="1.6" height="41.7" fill="#0000b6"/>
<rect x="1143.0" y="196.6" width="1.3" height="67.3" fill="#0000b6"/>
<rect x="1378.4" y="441.2" width="1.0" height="79.6" fill="#0000a8"/>
<rect x="1372.6" y="427.5" width="1.0" height="87.5" fill="#0000b6"/>
<rect x="1320.3" y="393.1" width="1.0" height="40.8" fill="#00009c"/>
<rect x="1089.5" y="9.6" width="1.3" height="87.5" fill="#0000af"/>
<rect x="1214.0" y="302.9" width="1.0" height="72.0" fill="#0000c0"/>
<rect x="1096.4" y="23.0" width="1.3" height="78.8" fill="#00009c"/>
<rect x="1130.8" y="183.9" width="1.3" height="40.2" fill="#0000af"/>
<rect x="1145.4" y="106.4" width="1.0" height="72.8" fill="#0000a2"/>
<rect x="1190.6" y="275.3" width="1.6" height="81.7" fill="#0000c0"/>
<rect x="1279.4" y="343.4" width="1.6" height="36.6" fill="#0000a8"/>
<rect x="1170.5" y="171.0" width="1.6" height="40.6" fill="#00009c"/>
<rect x="1170.2" y="151.3" width="1.6" height="67.3" fill="#0000a8"/>
<rect x="1063.7" y="84.9" width="1.3" height="44.4" fill="#0000a8"/>
<rect x="1079.8" y="-10.3" width="1.3" height="95.8" fill="#00009c"/>
<rect x="1274.7" y="390.7" width="1.0" height="76.4" fill="#0000b6"/>
<rect x="1077.9" y="109.6" width="1.3" height="97.4" fill="#0000c0"/>
<rect x="1201.1" y="285.1" width="1.0" height="66.4" fill="#0000b6"/>
<rect x="1253.1" y="295.9" width="1.0" height="41.5" fill="#00009c"/>
<rect x="1428.4" y="506.9" width="1.3" height="81.9" fill="#0000af"/>
<rect x="1404.0" y="483.4" width="1.0" height="78.5" fill="#0000b6"/>
<rect x="1347.0" y="396.4" width="1.3" height="70.5" fill="#0000a2"/>
<rect x="1207.6" y="173.7" width="1.0" height="92.0" fill="#0000a2"/>
<rect x="1199.5" y="279.0" width="1.3" height="44.9" fill="#0000af"/>
<rect x="1380.3" y="550.8" width="1.0" height="102.4" fill="#0000a8"/>
<rect x="1091.0" y="-4.0" width="1.6" height="93.9" fill="#0000af"/>
<rect x="1253.6" y="364.4" width="1.3" height="94.7" fill="#0000b6"/>
<rect x="1173.9" y="240.7" width="1.6" height="78.2" fill="#0000c0"/>
<rect x="1158.2" y="117.7" width="1.0" height="75.1" fill="#0000c0"/>
<rect x="1207.8" y="210.0" width="1.0" height="54.1" fill="#0000a2"/>
<rect x="1439.0" y="540.8" width="1.3" height="73.1" fill="#0000c0"/>
<rect x="1428.8" y="615.0" width="1.6" height="68.8" fill="#0000a2"/>
<rect x="1050.2" y="-15.1" width="1.3" height="47.9" fill="#0000a8"/>
<rect x="1261.5" y="372.9" width="1.3" height="105.7" fill="#0000a2"/>
<rect x="1385.0" y="550.8" width="1.3" height="64.3" fill="#0000c0"/>
<rect x="1097.8" y="4.7" width="1.6" height="99.5" fill="#0000af"/>
<rect x="1273.1" y="394.2" width="1.3" height="101.9" fill="#0000af"/>
<rect x="1306.1" y="316.5" width="1.6" height="93.1" fill="#0000c0"/>
<rect x="1095.2" y="62.3" width="1.6" height="41.5" fill="#0000a8"/>
<rect x="1436.1" y="626.6" width="1.3" height="86.0" fill="#00009c"/>
<rect x="1247.5" y="263.6" width="1.3" height="65.0" fill="#0000a8"/>
<rect x="1413.3" y="499.8" width="1.0" height="65.6" fill="#00009c"/>
<rect x="1258.9" y="374.9" width="1.6" height="68.5" fill="#0000b6"/>
<rect x="1252.9" y="359.4" width="1.6" height="97.4" fill="#0000b6"/>
<rect x="1080.3" y="24.0" width="1.6" height="55.8" fill="#0000c0"/>
<rect x="1301.1" y="325.7" width="1.6" height="74.8" fill="#0000a8"/>
<rect x="1198.2" y="285.3" width="1.6" height="50.0" fill="#0000a2"/>
<rect x="1255.3" y="359.6" width="1.0" height="73.1" fill="#0000b6"/>
<rect x="1287.7" y="307.2" width="1.6" height="71.7" fill="#0000af"/>
<rect x="1365.9" y="526.5" width="1.6" height="84.1" fill="#00009c"/>
<rect x="1229.2" y="329.6" width="1.3" height="63.8" fill="#0000a2"/>
<rect x="1242.9" y="212.6" width="1.6" height="101.3" fill="#0000af"/>
<rect x="1172.6" y="113.9" width="1.6" height="100.6" fill="#0000a2"/>
<rect x="1357.2" y="440.9" width="1.3" height="51.3" fill="#0000c0"/>
<rect x="1174.6" y="174.6" width="1.6" height="42.7" fill="#0000c0"/>
<rect x="1095.0" y="56.1" width="1.3" height="49.3" fill="#0000b6"/>
<rect x="1055.2" y="73.7" width="1.0" height="78.8" fill="#0000b6"/>
<rect x="1391.0" y="491.1" width="1.6" height="50.6" fill="#0000b6"/>
<rect x="1280.3" y="289.2" width="1.0" height="79.6" fill="#0000a8"/>
<rect x="1172.1" y="158.7" width="1.0" height="50.7" fill="#0000a2"/>
<rect x="1099.4" y="51.5" width="1.3" height="53.6" fill="#00009c"/>
<rect x="1378.4" y="470.8" width="1.6" height="44.2" fill="#0000af"/>
<rect x="1319.6" y="353.4" width="1.0" height="83.5" fill="#0000a8"/>
<rect x="1327.4" y="467.8" width="1.0" height="105.8" fill="#0000a2"/>
<rect x="1238.5" y="230.8" width="1.3" height="78.6" fill="#0000b6"/>
<rect x="1104.4" y="25.3" width="1.6" height="94.6" fill="#0000a8"/>
<rect x="1084.0" y="11.3" width="1.3" height="67.9" fill="#00009c"/>
<rect x="1202.1" y="211.4" width="1.0" height="50.1" fill="#0000a8"/>
<rect x="1299.2" y="342.6" width="1.6" height="64.1" fill="#0000a8"/>
<rect x="1193.8" y="274.7" width="1.3" height="42.0" fill="#00009c"/>
<rect x="1402.7" y="583.7" width="1.3" height="96.1" fill="#0000c0"/>
<rect x="1273.5" y="304.1" width="1.3" height="59.4" fill="#0000a8"/>
<rect x="1410.0" y="595.4" width="1.0" height="92.8" fill="#0000af"/>
<rect x="1404.1" y="585.6" width="1.3" height="89.5" fill="#0000a2"/>
<rect x="1128.5" y="90.4" width="1.0" height="56.6" fill="#00009c"/>
<rect x="1400.7" y="583.5" width="1.6" height="38.8" fill="#0000a8"/>
<rect x="1165.3" y="158.5" width="1.3" height="48.1" fill="#00009c"/>
<rect x="1251.5" y="292.6" width="1.6" height="43.7" fill="#0000af"/>
<rect x="1055.0" y="72.2" width="1.6" height="53.4" fill="#0000af"/>
<rect x="1066.1" y="18.8" width="1.3" height="42.2" fill="#0000a8"/>
<rect x="1407.7" y="588.3" width="1.0" height="103.6" fill="#0000b6"/>
<rect x="1300.8" y="424.8" width="1.3" height="77.5" fill="#00009c"/>
<rect x="1417.5" y="529.9" width="1.6" height="47.2" fill="#0000af"/>
<rect x="1290.1" y="317.8" width="1.3" height="65.0" fill="#0000b6"/>
<rect x="1284.7" y="302.7" width="1.3" height="81.5" fill="#0000b6"/>
<rect x="1311.0" y="439.1" width="1.0" height="89.8" fill="#0000b6"/>
<rect x="1298.8" y="360.3" width="1.6" height="39.0" fill="#0000a8"/>
<rect x="1204.8" y="292.6" width="1.3" height="57.8" fill="#0000a2"/>
<rect x="1333.2" y="410.5" width="1.6" height="38.5" fill="#00009c"/>
<rect x="1409.2" y="505.4" width="1.0" height="52.6" fill="#0000c0"/>
<rect x="1066.0" y="-31.5" width="1.6" height="96.1" fill="#0000a8"/>
<rect x="1107.7" y="60.9" width="1.3" height="64.7" fill="#0000b6"/>
<rect x="1301.4" y="429.8" width="1.3" height="87.8" fill="#0000a2"/>
<rect x="1339.2" y="368.6" width="1.6" height="98.3" fill="#0000b6"/>
<rect x="1384.1" y="439.5" width="1.6" height="86.5" fill="#0000c0"/>
<rect x="1121.8" y="42.5" width="1.6" height="102.5" fill="#0000b6"/>
<rect x="1411.7" y="587.6" width="1.3" height="39.6" fill="#0000a8"/>
<rect x="1215.8" y="299.9" width="1.0" height="73.5" fill="#00009c"/>
<rect x="1410.6" y="465.7" width="1.3" height="104.6" fill="#0000af"/>
<rect x="1187.4" y="193.2" width="1.0" height="44.7" fill="#00009c"/>
<rect x="1224.6" y="323.3" width="1.3" height="89.6" fill="#0000af"/>
<rect x="1344.5" y="428.0" width="1.3" height="46.1" fill="#0000b6"/>
<rect x="1162.1" y="231.2" width="1.3" height="48.3" fill="#0000c0"/>
<rect x="1277.8" y="299.9" width="1.6" height="73.7" fill="#0000af"/>
<rect x="1272.8" y="389.0" width="1.0" height="93.4" fill="#00009c"/>
<rect x="1169.8" y="239.3" width="1.6" height="84.4" fill="#0000af"/>
<rect x="1351.2" y="422.9" width="1.6" height="50.7" fill="#0000c0"/>
<rect x="1176.6" y="245.3" width="1.6" height="66.4" fill="#0000b6"/>
<rect x="1410.8" y="505.8" width="1.0" height="56.8" fill="#0000a8"/>
<rect x="1205.5" y="296.1" width="1.3" height="52.8" fill="#0000a8"/>
<rect x="1055.5" y="70.8" width="1.6" height="91.5" fill="#0000c0"/>
<rect x="1193.0" y="174.0" width="1.0" height="77.0" fill="#0000a2"/>
<rect x="1812.2" y="-15.3" width="1.6" height="92.6" fill="#0000a2"/>
<rect x="1825.1" y="29.5" width="1.0" height="36.9" fill="#0000af"/>
<rect x="1613.9" y="312.3" width="1.6" height="58.9" fill="#0000a8"/>
<rect x="1805.9" y="16.8" width="1.6" height="81.4" fill="#00009c"/>
<rect x="1519.5" y="436.9" width="1.3" height="69.8" fill="#0000b6"/>
<rect x="1540.2" y="378.0" width="1.0" height="103.6" fill="#0000c0"/>
<rect x="1649.5" y="231.5" width="1.3" height="85.3" fill="#00009c"/>
<rect x="1543.3" y="498.6" width="1.0" height="35.6" fill="#0000af"/>
<rect x="1490.3" y="580.2" width="1.0" height="72.3" fill="#0000c0"/>
<rect x="1525.1" y="457.0" width="1.0" height="45.6" fill="#0000c0"/>
<rect x="1449.0" y="567.5" width="1.6" height="49.7" fill="#0000af"/>
<rect x="1730.7" y="221.0" width="1.3" height="57.1" fill="#00009c"/>
<rect x="1587.3" y="432.1" width="1.0" height="39.7" fill="#0000af"/>
<rect x="1613.0" y="392.5" width="1.3" height="43.0" fill="#0000a2"/>
<rect x="1760.8" y="77.1" width="1.3" height="77.3" fill="#0000a2"/>
<rect x="1773.9" y="54.2" width="1.6" height="88.8" fill="#0000a8"/>
<rect x="1627.5" y="377.6" width="1.3" height="53.7" fill="#0000af"/>
<rect x="1582.3" y="438.1" width="1.0" height="96.2" fill="#0000af"/>
<rect x="1760.8" y="49.1" width="1.3" height="104.2" fill="#0000b6"/>
<rect x="1531.0" y="388.6" width="1.3" height="98.3" fill="#0000af"/>
<rect x="1667.0" y="198.3" width="1.0" height="97.0" fill="#0000af"/>
<rect x="1537.3" y="385.4" width="1.6" height="92.5" fill="#0000a2"/>
<rect x="1549.5" y="491.9" width="1.0" height="39.0" fill="#0000b6"/>
<rect x="1847.8" y="61.1" width="1.3" height="93.3" fill="#00009c"/>
<rect x="1739.6" y="208.5" width="1.0" height="69.2" fill="#0000af"/>
<rect x="1463.3" y="622.5" width="1.3" height="56.7" fill="#0000a2"/>
<rect x="1770.6" y="173.0" width="1.6" height="66.4" fill="#00009c"/>
<rect x="1681.9" y="162.9" width="1.3" height="103.3" fill="#0000a8"/>
<rect x="1685.0" y="301.0" width="1.3" height="82.4" fill="#00009c"/>
<rect x="1818.4" y="-12.1" width="1.0" height="83.0" fill="#0000c0"/>
<rect x="1584.9" y="330.5" width="1.3" height="85.4" fill="#0000a2"/>
<rect x="1621.1" y="263.0" width="1.0" height="105.3" fill="#0000c0"/>
<rect x="1485.1" y="456.6" width="1.3" height="101.5" fill="#0000c0"/>
<rect x="1463.9" y="617.5" width="1.0" height="41.4" fill="#0000a2"/>
<rect x="1696.7" y="199.1" width="1.6" height="54.6" fill="#0000af"/>
<rect x="1590.3" y="365.4" width="1.0" height="42.5" fill="#0000b6"/>
<rect x="1795.4" y="128.2" width="1.3" height="48.9" fill="#00009c"/>
<rect x="1609.5" y="335.7" width="1.3" height="46.4" fill="#00009c"/>
<rect x="1684.4" y="197.5" width="1.0" height="65.4" fill="#0000b6"/>
<rect x="1587.6" y="440.7" width="1.3" height="62.5" fill="#0000a8"/>
<rect x="1597.3" y="423.5" width="1.6" height="57.7" fill="#0000a2"/>
<rect x="1451.2" y="564.1" width="1.6" height="48.6" fill="#0000a8"/>
<rect x="1670.6" y="310.8" width="1.0" height="58.8" fill="#0000a8"/>
<rect x="1602.0" y="286.4" width="1.0" height="99.0" fill="#0000b6"/>
<rect x="1706.3" y="156.4" width="1.6" height="85.7" fill="#0000b6"/>
<rect x="1563.6" y="472.2" width="1.0" height="37.2" fill="#0000c0"/>
<rect x="1535.4" y="421.9" width="1.3" height="64.8" fill="#0000a8"/>
<rect x="1811.4" y="106.1" width="1.6" height="97.6" fill="#0000af"/>
<rect x="1793.8" y="135.8" width="1.3" height="74.9" fill="#0000b6"/>
<rect x="1780.5" y="160.2" width="1.0" height="58.9" fill="#0000a2"/>
<rect x="1472.0" y="515.4" width="1.3" height="61.0" fill="#0000b6"/>
<rect x="1513.6" y="476.9" width="1.3" height="40.7" fill="#00009c"/>
<rect x="1775.8" y="167.6" width="1.6" height="81.8" fill="#0000a8"/>
<rect x="1506.9" y="555.5" width="1.0" height="80.5" fill="#00009c"/>
<rect x="1768.0" y="89.4" width="1.3" height="62.6" fill="#0000b6"/>
<rect x="1778.4" y="59.7" width="1.0" height="75.4" fill="#0000a8"/>
<rect x="1589.8" y="359.1" width="1.6" height="45.5" fill="#0000af"/>
<rect x="1807.1" y="-15.5" width="1.3" height="99.7" fill="#0000b6"/>
<rect x="1545.5" y="370.3" width="1.3" height="94.5" fill="#0000c0"/>
<rect x="1515.9" y="418.8" width="1.6" height="101.6" fill="#0000a8"/>
<rect x="1638.6" y="243.2" width="1.6" height="99.3" fill="#0000a8"/>
<rect x="1600.1" y="335.8" width="1.6" height="58.0" fill="#0000a8"/>
<rect x="1494.9" y="488.2" width="1.0" height="52.4" fill="#0000af"/>
<rect x="1656.7" y="229.8" width="1.3" height="73.8" fill="#0000c0"/>
<rect x="1469.5" y="615.6" width="1.3" height="86.9" fill="#0000c0"/>
<rect x="1499.2" y="484.0" width="1.3" height="50.9" fill="#0000c0"/>
<rect x="1620.0" y="383.2" width="1.6" height="91.2" fill="#00009c"/>
<rect x="1616.3" y="284.5" width="1.3" height="86.7" fill="#00009c"/>
<rect x="1779.1" y="58.7" width="1.3" height="72.7" fill="#0000a2"/>
<rect x="1569.4" y="372.1" width="1.3" height="67.4" fill="#0000a8"/>
<rect x="1717.7" y="126.3" width="1.0" height="90.1" fill="#0000a2"/>
<rect x="1729.4" y="234.8" width="1.3" height="49.1" fill="#0000a8"/>
<rect x="1841.9" y="67.7" width="1.6" height="74.8" fill="#0000b6"/>
<rect x="1753.2" y="201.1" width="1.6" height="81.2" fill="#0000a8"/>
<rect x="1518.9" y="533.2" width="1.3" height="65.0" fill="#0000a2"/>
<rect x="1567.9" y="464.0" width="1.3" height="40.9" fill="#0000a2"/>
<rect x="1799.8" y="123.2" width="1.6" height="86.1" fill="#0000b6"/>
<rect x="1729.3" y="126.8" width="1.6" height="72.3" fill="#00009c"/>
<rect x="1640.5" y="364.5" width="1.3" height="48.0" fill="#0000a2"/>
<rect x="1795.0" y="132.9" width="1.0" height="40.7" fill="#0000b6"/>
<rect x="1634.5" y="285.0" width="1.3" height="55.4" fill="#0000a8"/>
<rect x="1524.7" y="416.4" width="1.0" height="88.6" fill="#0000a2"/>
<rect x="1735.9" y="99.6" width="1.6" height="98.6" fill="#00009c"/>
<rect x="1662.4" y="325.4" width="1.0" height="100.9" fill="#0000af"/>
<rect x="1775.9" y="163.3" width="1.3" height="60.7" fill="#0000c0"/>
<rect x="1532.9" y="395.1" width="1.6" height="95.0" fill="#0000c0"/>
<rect x="1548.4" y="376.4" width="1.6" height="89.7" fill="#00009c"/>
<rect x="1672.9" y="312.3" width="1.6" height="53.4" fill="#0000c0"/>
<rect x="1753.3" y="96.0" width="1.3" height="76.2" fill="#0000af"/>
<rect x="1834.2" y="79.3" width="1.3" height="75.7" fill="#0000a2"/>
<rect x="1787.2" y="52.9" width="1.6" height="66.0" fill="#0000af"/>
<rect x="1742.4" y="204.1" width="1.6" height="99.3" fill="#0000b6"/>
<rect x="1629.5" y="371.3" width="1.3" height="45.6" fill="#0000a8"/>
<rect x="1831.3" y="-19.6" width="1.6" height="72.4" fill="#0000a8"/>
<rect x="1647.6" y="348.7" width="1.0" height="62.0" fill="#0000a2"/>
<rect x="1648.2" y="349.1" width="1.3" height="67.4" fill="#0000a8"/>
<rect x="1660.3" y="332.9" width="1.3" height="102.9" fill="#0000a2"/>
<rect x="1544.0" y="494.6" width="1.6" height="87.9" fill="#0000b6"/>
<rect x="1451.2" y="538.2" width="1.3" height="72.4" fill="#00009c"/>
<rect x="1624.3" y="246.6" width="1.6" height="103.9" fill="#0000c0"/>
<rect x="1540.8" y="500.6" width="1.0" height="53.2" fill="#0000b6"/>
<rect x="1679.8" y="222.4" width="1.0" height="57.1" fill="#0000b6"/>
<rect x="1832.4" y="11.4" width="1.6" height="39.4" fill="#0000a8"/>
<rect x="1568.4" y="465.4" width="1.3" height="97.9" fill="#0000af"/>
<rect x="1471.4" y="542.8" width="1.3" height="38.8" fill="#0000af"/>
<rect x="1749.1" y="204.7" width="1.0" height="69.2" fill="#0000af"/>
<rect x="1609.1" y="404.4" width="1.6" height="69.9" fill="#0000c0"/>
<rect x="1775.2" y="70.9" width="1.6" height="64.9" fill="#00009c"/>
<rect x="1737.0" y="219.8" width="1.3" height="71.9" fill="#0000c0"/>
<rect x="1642.0" y="358.8" width="1.3" height="50.6" fill="#00009c"/>
<rect x="1825.3" y="93.0" width="1.6" height="45.0" fill="#0000a2"/>
<rect x="1510.1" y="421.7" width="1.0" height="94.5" fill="#0000af"/>
<rect x="1504.0" y="438.4" width="1.0" height="97.3" fill="#0000c0"/>
<rect x="1726.6" y="233.1" width="1.6" height="48.5" fill="#0000b6"/>
<rect x="1797.0" y="36.8" width="1.0" height="69.1" fill="#0000c0"/>
<rect x="1640.1" y="269.1" width="1.0" height="67.2" fill="#0000af"/>
<rect x="1493.7" y="573.7" width="1.3" height="67.0" fill="#0000a2"/>
<rect x="1640.1" y="277.7" width="1.0" height="61.4" fill="#0000b6"/>
<rect x="1791.9" y="141.5" width="1.6" height="69.4" fill="#00009c"/>
<rect x="1728.3" y="236.7" width="1.3" height="50.6" fill="#0000c0"/>
<rect x="1579.8" y="452.8" width="1.3" height="51.9" fill="#0000c0"/>
<rect x="1812.2" y="44.4" width="1.3" height="39.5" fill="#0000af"/>
<rect x="1733.7" y="218.9" width="1.3" height="100.6" fill="#0000a2"/>
<rect x="1538.8" y="406.5" width="1.3" height="72.0" fill="#0000c0"/>
<rect x="1482.7" y="589.0" width="1.3" height="53.4" fill="#0000b6"/>
<rect x="1566.2" y="382.0" width="1.3" height="61.0" fill="#00009c"/>
<rect x="1738.8" y="128.2" width="1.3" height="56.5" fill="#0000c0"/>
<rect x="1491.3" y="499.2" width="1.6" height="58.1" fill="#0000a8"/>
<rect x="1728.6" y="235.8" width="1.6" height="80.6" fill="#0000af"/>
<rect x="1710.8" y="249.7" width="1.0" height="85.2" fill="#0000a2"/>
<rect x="1408.5" y="470.4" width="1.0" height="88.5" fill="#0000e1"/>
<rect x="1407.4" y="486.2" width="1.4" height="71.0" fill="#0000e1"/>
<rect x="1384.0" y="482.6" width="1.8" height="40.2" fill="#0000b4"/>
<rect x="1501.7" y="429.4" width="1.4" height="100.9" fill="#0000c8"/>
<rect x="1378.7" y="460.3" width="1.4" height="54.7" fill="#0000b4"/>
<rect x="1525.6" y="430.2" width="1.0" height="64.9" fill="#0000b4"/>
<rect x="1359.3" y="324.4" width="1.0" height="162.1" fill="#0000a5"/>
<rect x="1434.2" y="490.5" width="1.0" height="106.1" fill="#0000fa"/>
<rect x="1410.8" y="419.4" width="1.4" height="142.8" fill="#0000c8"/>
<rect x="1411.1" y="482.4" width="1.4" height="80.2" fill="#0000a5"/>
<rect x="1454.3" y="513.5" width="1.0" height="86.6" fill="#0000b4"/>
<rect x="1421.0" y="435.3" width="1.4" height="142.0" fill="#0000b4"/>
<rect x="1413.5" y="458.0" width="1.4" height="108.3" fill="#0000c8"/>
<rect x="1414.9" y="495.9" width="1.4" height="72.3" fill="#0000fa"/>
<rect x="1447.7" y="532.3" width="1.8" height="77.4" fill="#0000b4"/>
<rect x="1474.1" y="440.2" width="1.0" height="130.7" fill="#0000a5"/>
<rect x="1478.1" y="489.5" width="1.8" height="75.4" fill="#0000e1"/>
<rect x="1373.3" y="371.9" width="1.0" height="135.2" fill="#0000e1"/>
<rect x="1485.2" y="406.7" width="1.4" height="147.9" fill="#0000a5"/>
<rect x="1510.4" y="449.3" width="1.8" height="68.2" fill="#0000fa"/>
<rect x="1456.3" y="469.1" width="1.4" height="127.9" fill="#0000c8"/>
<rect x="1409.1" y="431.8" width="1.0" height="127.9" fill="#0000c8"/>
<rect x="1413.2" y="421.3" width="1.8" height="144.4" fill="#0000b4"/>
<rect x="1500.8" y="369.0" width="1.8" height="162.6" fill="#0000b4"/>
<rect x="1443.6" y="554.3" width="1.4" height="56.1" fill="#0000b4"/>
<rect x="1415.4" y="453.3" width="1.0" height="115.7" fill="#0000c8"/>
<rect x="1386.2" y="429.6" width="1.4" height="96.4" fill="#0000b4"/>
<rect x="1361.7" y="365.7" width="1.4" height="124.3" fill="#0000e1"/>
<rect x="1419.5" y="418.9" width="1.0" height="156.1" fill="#0000b4"/>
<rect x="1417.3" y="516.1" width="1.0" height="55.7" fill="#0000a5"/>
<rect x="1457.7" y="490.0" width="1.4" height="105.0" fill="#0000a5"/>
<rect x="1478.9" y="485.8" width="1.8" height="78.0" fill="#0000a5"/>
<rect x="1459.7" y="548.0" width="1.8" height="44.0" fill="#0000e1"/>
<rect x="1427.0" y="514.1" width="1.8" height="72.0" fill="#0000e1"/>
<rect x="1397.6" y="380.6" width="1.8" height="162.2" fill="#0000e1"/>
<rect x="1401.8" y="423.8" width="1.4" height="125.1" fill="#0000fa"/>
<rect x="1452.0" y="545.4" width="1.8" height="58.0" fill="#0000a5"/>
<rect x="1425.0" y="427.0" width="1.4" height="156.1" fill="#0000c8"/>
<rect x="1425.5" y="434.1" width="1.8" height="149.7" fill="#0000c8"/>
<rect x="1454.4" y="491.0" width="1.8" height="108.9" fill="#0000c8"/>
<rect x="1418.3" y="527.4" width="1.4" height="45.8" fill="#0000b4"/>
<rect x="1465.1" y="477.5" width="1.0" height="106.7" fill="#0000fa"/>
<rect x="1448.0" y="475.5" width="1.0" height="133.7" fill="#0000a5"/>
<rect x="1449.1" y="548.7" width="1.0" height="58.9" fill="#0000e1"/>
<rect x="1470.9" y="428.0" width="1.0" height="147.5" fill="#0000e1"/>
<rect x="1444.9" y="523.5" width="1.4" height="88.9" fill="#0000fa"/>
<rect x="1420.7" y="461.6" width="1.4" height="115.1" fill="#0000fa"/>
<rect x="1436.1" y="528.2" width="1.0" height="71.2" fill="#0000c8"/>
<rect x="1486.5" y="409.5" width="1.0" height="143.2" fill="#0000a5"/>
<rect x="1443.9" y="464.7" width="1.8" height="146.2" fill="#0000b4"/>
<rect x="1362.1" y="531.7" width="1.8" height="45.8" fill="#0000a5"/>
<rect x="1478.6" y="605.5" width="1.0" height="36.8" fill="#0000b4"/>
<rect x="1474.3" y="611.8" width="1.8" height="30.5" fill="#0000b4"/>
<rect x="1506.1" y="564.9" width="1.4" height="77.4" fill="#0000a5"/>
<rect x="1542.3" y="511.8" width="1.0" height="57.2" fill="#0000a5"/>
<rect x="1398.8" y="585.7" width="1.8" height="55.5" fill="#0000c8"/>
<rect x="1539.9" y="515.3" width="1.4" height="53.6" fill="#0000e1"/>
<rect x="1496.3" y="579.4" width="1.8" height="62.9" fill="#0000c8"/>
<rect x="1395.7" y="581.2" width="1.0" height="41.1" fill="#0000b4"/>
<rect x="1356.5" y="523.5" width="1.0" height="68.5" fill="#0000b4"/>
<rect x="1482.1" y="600.3" width="1.0" height="35.3" fill="#0000c8"/>
<rect x="1475.2" y="610.4" width="1.4" height="31.9" fill="#0000a5"/>
<rect x="1391.0" y="574.3" width="1.0" height="67.8" fill="#0000b4"/>
<rect x="1391.1" y="574.4" width="1.8" height="67.9" fill="#0000a5"/>
<rect x="1508.7" y="561.2" width="1.4" height="81.1" fill="#0000b4"/>
<rect x="1537.4" y="519.0" width="1.0" height="96.6" fill="#0000c8"/>
<rect x="1551.1" y="498.8" width="1.4" height="50.1" fill="#0000b4"/>
<rect x="1405.3" y="595.2" width="1.8" height="47.1" fill="#0000e1"/>
<rect x="1400.0" y="587.5" width="1.8" height="54.8" fill="#0000e1"/>
<rect x="1514.8" y="552.2" width="1.0" height="70.3" fill="#0000a5"/>
<rect x="1509.2" y="560.5" width="1.8" height="62.0" fill="#0000e1"/>
<rect x="1386.6" y="567.8" width="1.8" height="68.1" fill="#0000a5"/>
<rect x="1374.1" y="549.4" width="1.8" height="60.7" fill="#0000c8"/>
<rect x="1368.6" y="541.4" width="1.8" height="100.3" fill="#0000b4"/>
<rect x="1500.3" y="573.5" width="1.0" height="44.6" fill="#0000c8"/>
<rect x="1554.5" y="493.8" width="1.4" height="56.6" fill="#0000b4"/>
<rect x="1398.2" y="584.9" width="1.0" height="57.4" fill="#0000b4"/>
<rect x="1375.4" y="551.4" width="1.0" height="90.9" fill="#0000a5"/>
<rect x="1359.0" y="527.3" width="1.4" height="44.2" fill="#0000c8"/>
<rect x="1373.4" y="548.4" width="1.4" height="93.9" fill="#0000b4"/>
<rect x="1552.3" y="497.1" width="1.8" height="43.2" fill="#0000a5"/>
<rect x="1537.9" y="518.2" width="1.0" height="63.9" fill="#0000b4"/>
<rect x="1543.5" y="510.0" width="1.0" height="87.0" fill="#0000a5"/>
<rect x="1488.0" y="591.6" width="1.0" height="50.7" fill="#0000c8"/>
<rect x="1483.0" y="598.9" width="1.0" height="38.5" fill="#0000e1"/>
<rect x="1547.3" y="504.3" width="1.8" height="29.4" fill="#0000b4"/>
<rect x="1545.3" y="507.4" width="1.8" height="83.5" fill="#0000b4"/>
<rect x="1504.4" y="567.5" width="1.8" height="74.8" fill="#0000c8"/>
<rect x="1527.4" y="533.7" width="1.0" height="40.7" fill="#0000b4"/>
<rect x="1403.3" y="592.4" width="1.0" height="49.9" fill="#0000a5"/>
<rect x="1053.6" y="384" width="785.8" height="11" fill="#00edff"/>
<rect x="1053.6" y="395" width="785.8" height="12" fill="#87ff78"/>
<rect x="1053.6" y="407" width="785.8" height="12" fill="#00edff"/>
<rect x="1082.4" y="384" width="1.6" height="11" fill="#00d2ff"/>
<rect x="1095.3" y="384" width="3.4" height="11" fill="#00dcff"/>
<rect x="1101.0" y="384" width="3.4" height="11" fill="#00dcff"/>
<rect x="1111.2" y="384" width="1.6" height="11" fill="#00d2ff"/>
<rect x="1131.9" y="384" width="2.0" height="11" fill="#00d2ff"/>
<rect x="1140.7" y="384" width="3.4" height="11" fill="#00e4ff"/>
<rect x="1147.9" y="384" width="2.0" height="11" fill="#00e4ff"/>
<rect x="1160.1" y="384" width="1.6" height="11" fill="#00e4ff"/>
<rect x="1165.8" y="384" width="2.6" height="11" fill="#00ccff"/>
<rect x="1173.8" y="384" width="1.6" height="11" fill="#00dcff"/>
<rect x="1186.3" y="384" width="3.4" height="11" fill="#00dcff"/>
<rect x="1193.7" y="384" width="2.0" height="11" fill="#00d2ff"/>
<rect x="1206.5" y="384" width="2.6" height="11" fill="#00e4ff"/>
<rect x="1214.9" y="384" width="1.6" height="11" fill="#00e4ff"/>
<rect x="1222.7" y="384" width="1.6" height="11" fill="#00c4ff"/>
<rect x="1232.9" y="384" width="1.6" height="11" fill="#00d4ff"/>
<rect x="1237.7" y="384" width="1.6" height="11" fill="#00d4ff"/>
<rect x="1250.3" y="384" width="3.4" height="11" fill="#00d4ff"/>
<rect x="1259.7" y="384" width="3.4" height="11" fill="#00b8ff"/>
<rect x="1269.8" y="384" width="2.0" height="11" fill="#00b8ff"/>
<rect x="1276.8" y="384" width="3.4" height="11" fill="#00ccff"/>
<rect x="1302.8" y="384" width="3.4" height="11" fill="#00d4ff"/>
<rect x="1310.3" y="384" width="2.6" height="11" fill="#00b8ff"/>
<rect x="1315.0" y="384" width="2.0" height="11" fill="#00ccff"/>
<rect x="1323.3" y="384" width="2.0" height="11" fill="#00d4ff"/>
<rect x="1329.7" y="384" width="2.6" height="11" fill="#00d4ff"/>
<rect x="1354.2" y="384" width="2.0" height="11" fill="#00dcff"/>
<rect x="1360.3" y="384" width="2.6" height="11" fill="#00e4ff"/>
<rect x="1367.0" y="384" width="2.6" height="11" fill="#00e4ff"/>
<rect x="1375.1" y="384" width="3.4" height="11" fill="#00d2ff"/>
<rect x="1395.0" y="384" width="2.0" height="11" fill="#00d2ff"/>
<rect x="1422.0" y="384" width="3.4" height="11" fill="#00e4ff"/>
<rect x="1430.9" y="384" width="1.6" height="11" fill="#00ccff"/>
<rect x="1437.4" y="384" width="2.0" height="11" fill="#00d2ff"/>
<rect x="1452.9" y="384" width="2.0" height="11" fill="#00d2ff"/>
<rect x="1474.9" y="384" width="2.6" height="11" fill="#00ccff"/>
<rect x="1500.1" y="384" width="2.6" height="11" fill="#00e4ff"/>
<rect x="1518.0" y="384" width="3.4" height="11" fill="#00e4ff"/>
<rect x="1525.5" y="384" width="2.0" height="11" fill="#00ccff"/>
<rect x="1534.2" y="384" width="2.0" height="11" fill="#00e4ff"/>
<rect x="1542.3" y="384" width="1.6" height="11" fill="#00e4ff"/>
<rect x="1548.5" y="384" width="2.0" height="11" fill="#00ccff"/>
<rect x="1554.3" y="384" width="2.0" height="11" fill="#00ccff"/>
<rect x="1563.2" y="384" width="3.4" height="11" fill="#00b8ff"/>
<rect x="1577.1" y="384" width="2.6" height="11" fill="#00d4ff"/>
<rect x="1586.4" y="384" width="2.6" height="11" fill="#00d4ff"/>
<rect x="1591.3" y="384" width="1.6" height="11" fill="#00ccff"/>
<rect x="1603.4" y="384" width="1.6" height="11" fill="#00d4ff"/>
<rect x="1622.2" y="384" width="2.6" height="11" fill="#00ccff"/>
<rect x="1629.1" y="384" width="1.6" height="11" fill="#00b8ff"/>
<rect x="1633.9" y="384" width="2.6" height="11" fill="#00c4ff"/>
<rect x="1640.5" y="384" width="2.6" height="11" fill="#00b8ff"/>
<rect x="1644.8" y="384" width="2.6" height="11" fill="#00c4ff"/>
<rect x="1653.8" y="384" width="2.0" height="11" fill="#00ccff"/>
<rect x="1670.1" y="384" width="3.4" height="11" fill="#00b8ff"/>
<rect x="1685.2" y="384" width="1.6" height="11" fill="#00ccff"/>
<rect x="1697.2" y="384" width="3.4" height="11" fill="#00ccff"/>
<rect x="1707.4" y="384" width="2.0" height="11" fill="#00dcff"/>
<rect x="1711.3" y="384" width="2.0" height="11" fill="#00dcff"/>
<rect x="1719.2" y="384" width="1.6" height="11" fill="#00ccff"/>
<rect x="1732.8" y="384" width="1.6" height="11" fill="#00dcff"/>
<rect x="1747.2" y="384" width="3.4" height="11" fill="#00d2ff"/>
<rect x="1754.4" y="384" width="2.0" height="11" fill="#00d2ff"/>
<rect x="1765.3" y="384" width="2.6" height="11" fill="#00dcff"/>
<rect x="1773.5" y="384" width="2.0" height="11" fill="#00dcff"/>
<rect x="1793.7" y="384" width="2.6" height="11" fill="#00e4ff"/>
<rect x="1802.8" y="384" width="2.0" height="11" fill="#00d2ff"/>
<rect x="1818.5" y="384" width="3.4" height="11" fill="#00dcff"/>
<rect x="1125.0" y="395" width="1.6" height="12" fill="#8aff76"/>
<rect x="1152.4" y="395" width="2.0" height="12" fill="#8aff76"/>
<rect x="1163.7" y="395" width="2.6" height="12" fill="#8aff76"/>
<rect x="1172.0" y="395" width="2.0" height="12" fill="#8aff76"/>
<rect x="1187.5" y="395" width="2.0" height="12" fill="#7aff86"/>
<rect x="1201.7" y="395" width="2.0" height="12" fill="#7aff86"/>
<rect x="1217.3" y="395" width="2.6" height="12" fill="#7aff86"/>
<rect x="1226.9" y="395" width="3.4" height="12" fill="#8aff76"/>
<rect x="1246.2" y="395" width="3.4" height="12" fill="#7aff86"/>
<rect x="1253.3" y="395" width="1.6" height="12" fill="#7aff86"/>
<rect x="1264.0" y="395" width="3.4" height="12" fill="#90ff70"/>
<rect x="1275.4" y="395" width="1.6" height="12" fill="#90ff70"/>
<rect x="1289.3" y="395" width="2.0" height="12" fill="#7aff86"/>
<rect x="1347.0" y="395" width="1.6" height="12" fill="#90ff70"/>
<rect x="1371.0" y="395" width="2.0" height="12" fill="#90ff70"/>
<rect x="1418.2" y="395" width="2.6" height="12" fill="#90ff70"/>
<rect x="1425.4" y="395" width="2.6" height="12" fill="#8aff76"/>
<rect x="1443.9" y="395" width="1.6" height="12" fill="#8aff76"/>
<rect x="1457.8" y="395" width="1.6" height="12" fill="#90ff70"/>
<rect x="1484.4" y="395" width="3.4" height="12" fill="#8aff76"/>
<rect x="1502.4" y="395" width="1.6" height="12" fill="#90ff70"/>
<rect x="1546.9" y="395" width="2.0" height="12" fill="#8aff76"/>
<rect x="1553.1" y="395" width="1.6" height="12" fill="#90ff70"/>
<rect x="1573.8" y="395" width="1.6" height="12" fill="#7aff86"/>
<rect x="1619.4" y="395" width="2.0" height="12" fill="#8aff76"/>
<rect x="1666.0" y="395" width="1.6" height="12" fill="#7aff86"/>
<rect x="1693.0" y="395" width="2.6" height="12" fill="#8aff76"/>
<rect x="1735.7" y="395" width="2.6" height="12" fill="#8aff76"/>
<rect x="1760.3" y="395" width="1.6" height="12" fill="#90ff70"/>
<rect x="1783.0" y="395" width="2.0" height="12" fill="#90ff70"/>
<rect x="1808.9" y="395" width="2.0" height="12" fill="#90ff70"/>
<rect x="1813.4" y="395" width="1.6" height="12" fill="#7aff86"/>
<rect x="1819.1" y="395" width="1.6" height="12" fill="#7aff86"/>
<rect x="1838.2" y="395" width="2.6" height="12" fill="#90ff70"/>
<rect x="1080.5" y="407" width="3.4" height="12" fill="#00ccff"/>
<rect x="1116.6" y="407" width="3.4" height="12" fill="#00dcff"/>
<rect x="1121.5" y="407" width="2.0" height="12" fill="#00dcff"/>
<rect x="1134.8" y="407" width="1.6" height="12" fill="#00d2ff"/>
<rect x="1139.0" y="407" width="3.4" height="12" fill="#00dcff"/>
<rect x="1162.0" y="407" width="1.6" height="12" fill="#00ccff"/>
<rect x="1190.1" y="407" width="2.0" height="12" fill="#00dcff"/>
<rect x="1199.0" y="407" width="2.0" height="12" fill="#00d2ff"/>
<rect x="1204.0" y="407" width="3.4" height="12" fill="#00dcff"/>
<rect x="1219.9" y="407" width="1.6" height="12" fill="#00ccff"/>
<rect x="1234.9" y="407" width="2.6" height="12" fill="#00b8ff"/>
<rect x="1249.9" y="407" width="1.6" height="12" fill="#00ccff"/>
<rect x="1259.0" y="407" width="2.0" height="12" fill="#00c4ff"/>
<rect x="1264.1" y="407" width="1.6" height="12" fill="#00d4ff"/>
<rect x="1268.8" y="407" width="3.4" height="12" fill="#00ccff"/>
<rect x="1283.3" y="407" width="1.6" height="12" fill="#00ccff"/>
<rect x="1287.1" y="407" width="3.4" height="12" fill="#00c4ff"/>
<rect x="1292.1" y="407" width="2.0" height="12" fill="#00b8ff"/>
<rect x="1313.5" y="407" width="2.6" height="12" fill="#00c4ff"/>
<rect x="1321.2" y="407" width="2.6" height="12" fill="#00d4ff"/>
<rect x="1335.8" y="407" width="2.0" height="12" fill="#00c4ff"/>
<rect x="1348.9" y="407" width="3.4" height="12" fill="#00d4ff"/>
<rect x="1363.1" y="407" width="2.6" height="12" fill="#00dcff"/>
<rect x="1370.3" y="407" width="2.0" height="12" fill="#00dcff"/>
<rect x="1374.2" y="407" width="1.6" height="12" fill="#00d2ff"/>
<rect x="1379.3" y="407" width="2.6" height="12" fill="#00e4ff"/>
<rect x="1391.0" y="407" width="1.6" height="12" fill="#00ccff"/>
<rect x="1411.3" y="407" width="2.0" height="12" fill="#00e4ff"/>
<rect x="1450.2" y="407" width="1.6" height="12" fill="#00ccff"/>
<rect x="1461.8" y="407" width="2.6" height="12" fill="#00e4ff"/>
<rect x="1467.3" y="407" width="2.6" height="12" fill="#00e4ff"/>
<rect x="1485.3" y="407" width="2.0" height="12" fill="#00d2ff"/>
<rect x="1490.7" y="407" width="1.6" height="12" fill="#00ccff"/>
<rect x="1497.2" y="407" width="3.4" height="12" fill="#00d2ff"/>
<rect x="1507.1" y="407" width="2.0" height="12" fill="#00ccff"/>
<rect x="1520.7" y="407" width="2.6" height="12" fill="#00d2ff"/>
<rect x="1527.8" y="407" width="2.0" height="12" fill="#00e4ff"/>
<rect x="1535.9" y="407" width="2.6" height="12" fill="#00d2ff"/>
<rect x="1548.4" y="407" width="3.4" height="12" fill="#00c4ff"/>
<rect x="1558.6" y="407" width="1.6" height="12" fill="#00c4ff"/>
<rect x="1568.2" y="407" width="2.0" height="12" fill="#00ccff"/>
<rect x="1587.9" y="407" width="2.6" height="12" fill="#00d4ff"/>
<rect x="1594.3" y="407" width="3.4" height="12" fill="#00d4ff"/>
<rect x="1607.0" y="407" width="3.4" height="12" fill="#00ccff"/>
<rect x="1612.3" y="407" width="3.4" height="12" fill="#00d4ff"/>
<rect x="1630.1" y="407" width="3.4" height="12" fill="#00b8ff"/>
<rect x="1639.2" y="407" width="1.6" height="12" fill="#00c4ff"/>
<rect x="1642.8" y="407" width="3.4" height="12" fill="#00d4ff"/>
<rect x="1665.5" y="407" width="2.0" height="12" fill="#00d2ff"/>
<rect x="1682.1" y="407" width="1.6" height="12" fill="#00dcff"/>
<rect x="1689.9" y="407" width="3.4" height="12" fill="#00e4ff"/>
<rect x="1696.3" y="407" width="2.6" height="12" fill="#00ccff"/>
<rect x="1704.6" y="407" width="1.6" height="12" fill="#00d2ff"/>
<rect x="1710.2" y="407" width="1.6" height="12" fill="#00d2ff"/>
<rect x="1714.1" y="407" width="2.0" height="12" fill="#00ccff"/>
<rect x="1724.8" y="407" width="3.4" height="12" fill="#00e4ff"/>
<rect x="1756.6" y="407" width="2.6" height="12" fill="#00ccff"/>
<rect x="1785.9" y="407" width="3.4" height="12" fill="#00e4ff"/>
<rect x="1794.7" y="407" width="1.6" height="12" fill="#00ccff"/>
<rect x="1810.9" y="407" width="1.6" height="12" fill="#00dcff"/>
<rect x="1019.90" y="42" width="52" height="12" fill="url(#gj)"/>
<rect x="1822.40" y="42" width="52" height="12" fill="url(#gj)"/>
<rect x="1027.89" y="54" width="52" height="12" fill="url(#gj)"/>
<rect x="1814.34" y="54" width="52" height="12" fill="url(#gj)"/>
<rect x="1035.88" y="66" width="52" height="12" fill="url(#gj)"/>
<rect x="1806.28" y="66" width="52" height="12" fill="url(#gj)"/>
<rect x="1043.87" y="78" width="52" height="12" fill="url(#gj)"/>
<rect x="1798.22" y="78" width="52" height="12" fill="url(#gj)"/>
<rect x="1051.86" y="90" width="52" height="11" fill="url(#gj)"/>
<rect x="1790.16" y="90" width="52" height="11" fill="url(#gj)"/>
<rect x="1059.85" y="101" width="52" height="12" fill="url(#gj)"/>
<rect x="1782.10" y="101" width="52" height="12" fill="url(#gj)"/>
<rect x="1067.84" y="113" width="52" height="12" fill="url(#gj)"/>
<rect x="1774.04" y="113" width="52" height="12" fill="url(#gj)"/>
<rect x="1075.83" y="125" width="52" height="12" fill="url(#gj)"/>
<rect x="1765.98" y="125" width="52" height="12" fill="url(#gj)"/>
<rect x="1083.82" y="137" width="52" height="11" fill="url(#gj)"/>
<rect x="1757.92" y="137" width="52" height="11" fill="url(#gj)"/>
<rect x="1091.81" y="148" width="52" height="12" fill="url(#gj)"/>
<rect x="1749.86" y="148" width="52" height="12" fill="url(#gj)"/>
<rect x="1099.80" y="160" width="52" height="12" fill="url(#gj)"/>
<rect x="1741.80" y="160" width="52" height="12" fill="url(#gj)"/>
<rect x="1107.79" y="172" width="52" height="12" fill="url(#gj)"/>
<rect x="1733.74" y="172" width="52" height="12" fill="url(#gj)"/>
<rect x="1115.78" y="184" width="52" height="11" fill="url(#gj)"/>
<rect x="1725.68" y="184" width="52" height="11" fill="url(#gj)"/>
<rect x="1123.77" y="195" width="52" height="12" fill="url(#gj)"/>
<rect x="1717.62" y="195" width="52" height="12" fill="url(#gj)"/>
<rect x="1131.76" y="207" width="52" height="12" fill="url(#gj)"/>
<rect x="1709.56" y="207" width="52" height="12" fill="url(#gj)"/>
<rect x="1139.75" y="219" width="52" height="12" fill="url(#gj)"/>
<rect x="1701.50" y="219" width="52" height="12" fill="url(#gj)"/>
<rect x="1147.74" y="231" width="52" height="11" fill="url(#gj)"/>
<rect x="1693.44" y="231" width="52" height="11" fill="url(#gj)"/>
<rect x="1155.73" y="242" width="52" height="12" fill="url(#gj)"/>
<rect x="1685.38" y="242" width="52" height="12" fill="url(#gj)"/>
<rect x="1163.72" y="254" width="52" height="12" fill="url(#gj)"/>
<rect x="1677.32" y="254" width="52" height="12" fill="url(#gj)"/>
<rect x="1171.71" y="266" width="52" height="12" fill="url(#gj)"/>
<rect x="1669.26" y="266" width="52" height="12" fill="url(#gj)"/>
<rect x="1179.70" y="278" width="52" height="12" fill="url(#gj)"/>
<rect x="1661.20" y="278" width="52" height="12" fill="url(#gj)"/>
<rect x="1187.69" y="290" width="52" height="11" fill="url(#gj)"/>
<rect x="1653.14" y="290" width="52" height="11" fill="url(#gj)"/>
<rect x="1195.68" y="301" width="52" height="12" fill="url(#gj)"/>
<rect x="1645.08" y="301" width="52" height="12" fill="url(#gj)"/>
<rect x="1203.67" y="313" width="52" height="12" fill="url(#gj)"/>
<rect x="1637.02" y="313" width="52" height="12" fill="url(#gj)"/>
<rect x="1211.66" y="325" width="52" height="12" fill="url(#gj)"/>
<rect x="1628.96" y="325" width="52" height="12" fill="url(#gj)"/>
<rect x="1219.65" y="337" width="52" height="11" fill="url(#gj)"/>
<rect x="1620.90" y="337" width="52" height="11" fill="url(#gj)"/>
<rect x="1227.64" y="348" width="52" height="12" fill="url(#gj)"/>
<rect x="1612.84" y="348" width="52" height="12" fill="url(#gj)"/>
<rect x="1235.63" y="360" width="52" height="12" fill="url(#gj)"/>
<rect x="1604.78" y="360" width="52" height="12" fill="url(#gj)"/>
<rect x="1243.62" y="372" width="52" height="12" fill="url(#gj)"/>
<rect x="1596.72" y="372" width="52" height="12" fill="url(#gj)"/>
<rect x="1251.61" y="384" width="52" height="11" fill="url(#gc)"/>
<rect x="1588.66" y="384" width="52" height="11" fill="url(#gc)"/>
<rect x="1259.60" y="395" width="52" height="12" fill="url(#gg)"/>
<rect x="1580.60" y="395" width="52" height="12" fill="url(#gg)"/>
<rect x="1267.59" y="407" width="52" height="12" fill="url(#gc)"/>
<rect x="1572.54" y="407" width="52" height="12" fill="url(#gc)"/>
<rect x="1275.58" y="419" width="52" height="12" fill="url(#gj)"/>
<rect x="1564.48" y="419" width="52" height="12" fill="url(#gj)"/>
<rect x="1283.57" y="431" width="52" height="11" fill="url(#gj)"/>
<rect x="1556.42" y="431" width="52" height="11" fill="url(#gj)"/>
<rect x="1291.56" y="442" width="52" height="12" fill="url(#gj)"/>
<rect x="1548.36" y="442" width="52" height="12" fill="url(#gj)"/>
<rect x="1299.55" y="454" width="52" height="12" fill="url(#gj)"/>
<rect x="1540.30" y="454" width="52" height="12" fill="url(#gj)"/>
<rect x="1307.54" y="466" width="52" height="12" fill="url(#gj)"/>
<rect x="1532.24" y="466" width="52" height="12" fill="url(#gj)"/>
<rect x="1315.53" y="478" width="52" height="12" fill="url(#gj)"/>
<rect x="1524.18" y="478" width="52" height="12" fill="url(#gj)"/>
<rect x="1323.52" y="490" width="52" height="11" fill="url(#gj)"/>
<rect x="1516.12" y="490" width="52" height="11" fill="url(#gj)"/>
<rect x="1331.51" y="501" width="52" height="12" fill="url(#gj)"/>
<rect x="1508.06" y="501" width="52" height="12" fill="url(#gj)"/>
<rect x="1339.50" y="513" width="52" height="12" fill="url(#gj)"/>
<rect x="1500.00" y="513" width="52" height="12" fill="url(#gj)"/>
<rect x="1347.49" y="525" width="52" height="12" fill="url(#gj)"/>
<rect x="1491.94" y="525" width="52" height="12" fill="url(#gj)"/>
<rect x="1355.48" y="537" width="52" height="11" fill="url(#gj)"/>
<rect x="1483.88" y="537" width="52" height="11" fill="url(#gj)"/>
<rect x="1363.47" y="548" width="52" height="12" fill="url(#gj)"/>
<rect x="1475.82" y="548" width="52" height="12" fill="url(#gj)"/>
<rect x="1371.46" y="560" width="52" height="12" fill="url(#gj)"/>
<rect x="1467.76" y="560" width="52" height="12" fill="url(#gj)"/>
<rect x="1379.45" y="572" width="52" height="12" fill="url(#gj)"/>
<rect x="1459.70" y="572" width="52" height="12" fill="url(#gj)"/>
<rect x="1387.44" y="584" width="52" height="11" fill="url(#gj)"/>
<rect x="1451.64" y="584" width="52" height="11" fill="url(#gj)"/>
<rect x="1395.43" y="595" width="100.15" height="12" fill="url(#gk47)"/>
<rect x="1403.42" y="607" width="84.10" height="12" fill="url(#gk48)"/>
<rect x="1411.41" y="619" width="68.05" height="12" fill="url(#gk49)"/>
<rect x="1419.40" y="631" width="52" height="11" fill="url(#gk50)"/>
<rect x="1257.0" y="384" width="1.4" height="11" fill="#0020c8"/>
<rect x="1268.8" y="395" width="1.4" height="12" fill="#0010d0"/>
<rect x="1300.5" y="395" width="1.4" height="12" fill="#0030e0"/>
<rect x="1312.6" y="407" width="1.4" height="12" fill="#c8f8ff"/>
<rect x="1631.7" y="384" width="1.4" height="11" fill="#b0f4ff"/>
<rect x="1579.0" y="407" width="1.4" height="12" fill="#0010c0"/>
</g>
<g stroke="#1b4f78" stroke-width="2.2" fill="none">
<line x1="1053.6" y1="636.62" x2="1066.6" y2="636.62"/>
<line x1="1839.4" y1="636.62" x2="1826.4" y2="636.62"/>
<line x1="1053.6" y1="518.97" x2="1066.6" y2="518.97"/>
<line x1="1839.4" y1="518.97" x2="1826.4" y2="518.97"/>
<line x1="1053.6" y1="401.32" x2="1066.6" y2="401.32"/>
<line x1="1839.4" y1="401.32" x2="1826.4" y2="401.32"/>
<line x1="1053.6" y1="283.68" x2="1066.6" y2="283.68"/>
<line x1="1839.4" y1="283.68" x2="1826.4" y2="283.68"/>
<line x1="1053.6" y1="166.03" x2="1066.6" y2="166.03"/>
<line x1="1839.4" y1="166.03" x2="1826.4" y2="166.03"/>
<line x1="1053.6" y1="48.38" x2="1066.6" y2="48.38"/>
<line x1="1839.4" y1="48.38" x2="1826.4" y2="48.38"/>
<line x1="1374.6" y1="42.7" x2="1374.6" y2="50.7"/>
<line x1="1374.6" y1="642.3" x2="1374.6" y2="634.3"/>
<line x1="1692.5" y1="42.7" x2="1692.5" y2="50.7"/>
<line x1="1692.5" y1="642.3" x2="1692.5" y2="634.3"/>
</g>
<path d="M1054.1 42.7V642.3H1839.4V42.7Z" fill="none" stroke="#103e6c" stroke-width="3.4"/>
<g shape-rendering="crispEdges">
<rect x="1863.5" y="632.93" width="47.7" height="9.77" fill="#00008f"/>
<rect x="1863.5" y="623.56" width="47.7" height="9.77" fill="#00009f"/>
<rect x="1863.5" y="614.19" width="47.7" height="9.77" fill="#0000af"/>
<rect x="1863.5" y="604.82" width="47.7" height="9.77" fill="#0000bf"/>
<rect x="1863.5" y="595.46" width="47.7" height="9.77" fill="#0000cf"/>
<rect x="1863.5" y="586.09" width="47.7" height="9.77" fill="#0000df"/>
<rect x="1863.5" y="576.72" width="47.7" height="9.77" fill="#0000ef"/>
<rect x="1863.5" y="567.35" width="47.7" height="9.77" fill="#0000ff"/>
<rect x="1863.5" y="557.98" width="47.7" height="9.77" fill="#0010ff"/>
<rect x="1863.5" y="548.61" width="47.7" height="9.77" fill="#0020ff"/>
<rect x="1863.5" y="539.24" width="47.7" height="9.77" fill="#0030ff"/>
<rect x="1863.5" y="529.88" width="47.7" height="9.77" fill="#0040ff"/>
<rect x="1863.5" y="520.51" width="47.7" height="9.77" fill="#0050ff"/>
<rect x="1863.5" y="511.14" width="47.7" height="9.77" fill="#0060ff"/>
<rect x="1863.5" y="501.77" width="47.7" height="9.77" fill="#0070ff"/>
<rect x="1863.5" y="492.40" width="47.7" height="9.77" fill="#0080ff"/>
<rect x="1863.5" y="483.03" width="47.7" height="9.77" fill="#008fff"/>
<rect x="1863.5" y="473.66" width="47.7" height="9.77" fill="#009fff"/>
<rect x="1863.5" y="464.29" width="47.7" height="9.77" fill="#00afff"/>
<rect x="1863.5" y="454.92" width="47.7" height="9.77" fill="#00bfff"/>
<rect x="1863.5" y="445.56" width="47.7" height="9.77" fill="#00cfff"/>
<rect x="1863.5" y="436.19" width="47.7" height="9.77" fill="#00dfff"/>
<rect x="1863.5" y="426.82" width="47.7" height="9.77" fill="#00efff"/>
<rect x="1863.5" y="417.45" width="47.7" height="9.77" fill="#00ffff"/>
<rect x="1863.5" y="408.08" width="47.7" height="9.77" fill="#10ffef"/>
<rect x="1863.5" y="398.71" width="47.7" height="9.77" fill="#20ffdf"/>
<rect x="1863.5" y="389.34" width="47.7" height="9.77" fill="#30ffcf"/>
<rect x="1863.5" y="379.97" width="47.7" height="9.77" fill="#40ffbf"/>
<rect x="1863.5" y="370.61" width="47.7" height="9.77" fill="#50ffaf"/>
<rect x="1863.5" y="361.24" width="47.7" height="9.77" fill="#60ff9f"/>
<rect x="1863.5" y="351.87" width="47.7" height="9.77" fill="#70ff8f"/>
<rect x="1863.5" y="342.50" width="47.7" height="9.77" fill="#80ff80"/>
<rect x="1863.5" y="333.13" width="47.7" height="9.77" fill="#8fff70"/>
<rect x="1863.5" y="323.76" width="47.7" height="9.77" fill="#9fff60"/>
<rect x="1863.5" y="314.39" width="47.7" height="9.77" fill="#afff50"/>
<rect x="1863.5" y="305.02" width="47.7" height="9.77" fill="#bfff40"/>
<rect x="1863.5" y="295.66" width="47.7" height="9.77" fill="#cfff30"/>
<rect x="1863.5" y="286.29" width="47.7" height="9.77" fill="#dfff20"/>
<rect x="1863.5" y="276.92" width="47.7" height="9.77" fill="#efff10"/>
<rect x="1863.5" y="267.55" width="47.7" height="9.77" fill="#ffff00"/>
<rect x="1863.5" y="258.18" width="47.7" height="9.77" fill="#ffef00"/>
<rect x="1863.5" y="248.81" width="47.7" height="9.77" fill="#ffdf00"/>
<rect x="1863.5" y="239.44" width="47.7" height="9.77" fill="#ffcf00"/>
<rect x="1863.5" y="230.07" width="47.7" height="9.77" fill="#ffbf00"/>
<rect x="1863.5" y="220.71" width="47.7" height="9.77" fill="#ffaf00"/>
<rect x="1863.5" y="211.34" width="47.7" height="9.77" fill="#ff9f00"/>
<rect x="1863.5" y="201.97" width="47.7" height="9.77" fill="#ff8f00"/>
<rect x="1863.5" y="192.60" width="47.7" height="9.77" fill="#ff8000"/>
<rect x="1863.5" y="183.23" width="47.7" height="9.77" fill="#ff7000"/>
<rect x="1863.5" y="173.86" width="47.7" height="9.77" fill="#ff6000"/>
<rect x="1863.5" y="164.49" width="47.7" height="9.77" fill="#ff5000"/>
<rect x="1863.5" y="155.12" width="47.7" height="9.77" fill="#ff4000"/>
<rect x="1863.5" y="145.76" width="47.7" height="9.77" fill="#ff3000"/>
<rect x="1863.5" y="136.39" width="47.7" height="9.77" fill="#ff2000"/>
<rect x="1863.5" y="127.02" width="47.7" height="9.77" fill="#ff1000"/>
<rect x="1863.5" y="117.65" width="47.7" height="9.77" fill="#ff0000"/>
<rect x="1863.5" y="108.28" width="47.7" height="9.77" fill="#f20000"/>
<rect x="1863.5" y="98.91" width="47.7" height="9.77" fill="#e60000"/>
<rect x="1863.5" y="89.54" width="47.7" height="9.77" fill="#d90000"/>
<rect x="1863.5" y="80.17" width="47.7" height="9.77" fill="#cc0000"/>
<rect x="1863.5" y="70.81" width="47.7" height="9.77" fill="#bf0000"/>
<rect x="1863.5" y="61.44" width="47.7" height="9.77" fill="#b20000"/>
<rect x="1863.5" y="52.07" width="47.7" height="9.77" fill="#a60000"/>
<rect x="1863.5" y="42.70" width="47.7" height="9.77" fill="#990000"/>
</g>
<g stroke="#103e6c" stroke-width="2.2">
<line x1="1911.2" y1="162.62" x2="1902.2" y2="162.62"/>
<line x1="1911.2" y1="282.54" x2="1902.2" y2="282.54"/>
<line x1="1911.2" y1="402.46" x2="1902.2" y2="402.46"/>
<line x1="1911.2" y1="522.38" x2="1902.2" y2="522.38"/>
</g>
<rect x="1863.5" y="42.7" width="47.7" height="599.6" fill="none" stroke="#103e6c" stroke-width="3.4"/>
<g font-size="25">
<text x="1921.6" y="48" font-size="24.3">0</text>
<text x="1921.6" y="112" font-size="24.3">–5</text>
<text x="1921.6" y="171.9" font-size="24.3">–10</text>
<text x="1921.6" y="231.8" font-size="24.3">–15</text>
<text x="1921.6" y="291.7" font-size="24.3">–20</text>
<text x="1921.6" y="351.6" font-size="24.3">–25</text>
<text x="1921.6" y="411.5" font-size="24.3">–30</text>
<text x="1921.6" y="471.4" font-size="24.3">–35</text>
<text x="1921.6" y="531.3" font-size="24.3">–40</text>
<text x="1921.6" y="591.2" font-size="24.3">–45</text>
<text x="1921.6" y="651.1" font-size="24.3">–50</text>
<text x="1041.2" y="52.9" text-anchor="end" textLength="36.3" lengthAdjust="spacingAndGlyphs">5.0</text>
<text x="1041.2" y="114.7" text-anchor="end" textLength="36.3" lengthAdjust="spacingAndGlyphs">4.5</text>
<text x="1041.2" y="174.5" text-anchor="end" textLength="36.3" lengthAdjust="spacingAndGlyphs">4.0</text>
<text x="1041.2" y="232.5" text-anchor="end" textLength="36.3" lengthAdjust="spacingAndGlyphs">3.5</text>
<text x="1041.2" y="293" text-anchor="end" textLength="36.3" lengthAdjust="spacingAndGlyphs">3.0</text>
<text x="1041.2" y="352.7" text-anchor="end" textLength="36.3" lengthAdjust="spacingAndGlyphs">2.5</text>
<text x="1041.2" y="412.2" text-anchor="end" textLength="36.3" lengthAdjust="spacingAndGlyphs">2.0</text>
<text x="1041.2" y="471.4" text-anchor="end" textLength="36.3" lengthAdjust="spacingAndGlyphs">1.5</text>
<text x="1041.2" y="531.5" text-anchor="end" textLength="36.3" lengthAdjust="spacingAndGlyphs">1.0</text>
<text x="1041.2" y="591.6" text-anchor="end" textLength="36.3" lengthAdjust="spacingAndGlyphs">0.5</text>
<text x="1041.6" y="651.1" text-anchor="end" textLength="16" lengthAdjust="spacingAndGlyphs">0</text>
<text x="1054.5" y="679.8" text-anchor="middle" textLength="16" lengthAdjust="spacingAndGlyphs">0</text>
<text x="1135.7" y="679.8" text-anchor="middle" textLength="36.3" lengthAdjust="spacingAndGlyphs">0.5</text>
<text x="1211.9" y="679.8" text-anchor="middle" textLength="36.3" lengthAdjust="spacingAndGlyphs">1.0</text>
<text x="1290.1" y="679.8" text-anchor="middle" textLength="36.3" lengthAdjust="spacingAndGlyphs">1.5</text>
<text x="1366.8" y="679.8" text-anchor="middle" textLength="36.3" lengthAdjust="spacingAndGlyphs">2.0</text>
<text x="1446.9" y="679.8" text-anchor="middle" textLength="36.3" lengthAdjust="spacingAndGlyphs">2.5</text>
<text x="1523.5" y="679.8" text-anchor="middle" textLength="36.3" lengthAdjust="spacingAndGlyphs">3.0</text>
<text x="1602.8" y="679.8" text-anchor="middle" textLength="36.3" lengthAdjust="spacingAndGlyphs">3.5</text>
<text x="1678.8" y="679.8" text-anchor="middle" textLength="36.3" lengthAdjust="spacingAndGlyphs">4.0</text>
<text x="1760" y="679.8" text-anchor="middle" textLength="36.3" lengthAdjust="spacingAndGlyphs">4.5</text>
<text x="1838.9" y="679.8" text-anchor="middle" textLength="36.3" lengthAdjust="spacingAndGlyphs">5.0</text>
<text x="1039.5" y="26">×10<tspan font-size="17" dy="-7.8">4</tspan></text>
<text x="1779.6" y="718.8">×10<tspan font-size="17" dy="-7.8" letter-spacing="-0.8">–5</tspan></text>
<text x="1355.8" y="729" textLength="183.6" lengthAdjust="spacingAndGlyphs">Time (Seconds)</text>
<text transform="translate(967.2 342.4) rotate(-90)" text-anchor="middle" textLength="202.2" lengthAdjust="spacingAndGlyphs">Frequency (MHz)</text>
<text x="1065.7" y="374" textLength="139" lengthAdjust="spacingAndGlyphs" style="fill:#fff">Real Target</text>
<text x="1563.9" y="530" textLength="99.2" lengthAdjust="spacingAndGlyphs" style="fill:#fff">Jammer</text>
</g>
</svg></body></html>
